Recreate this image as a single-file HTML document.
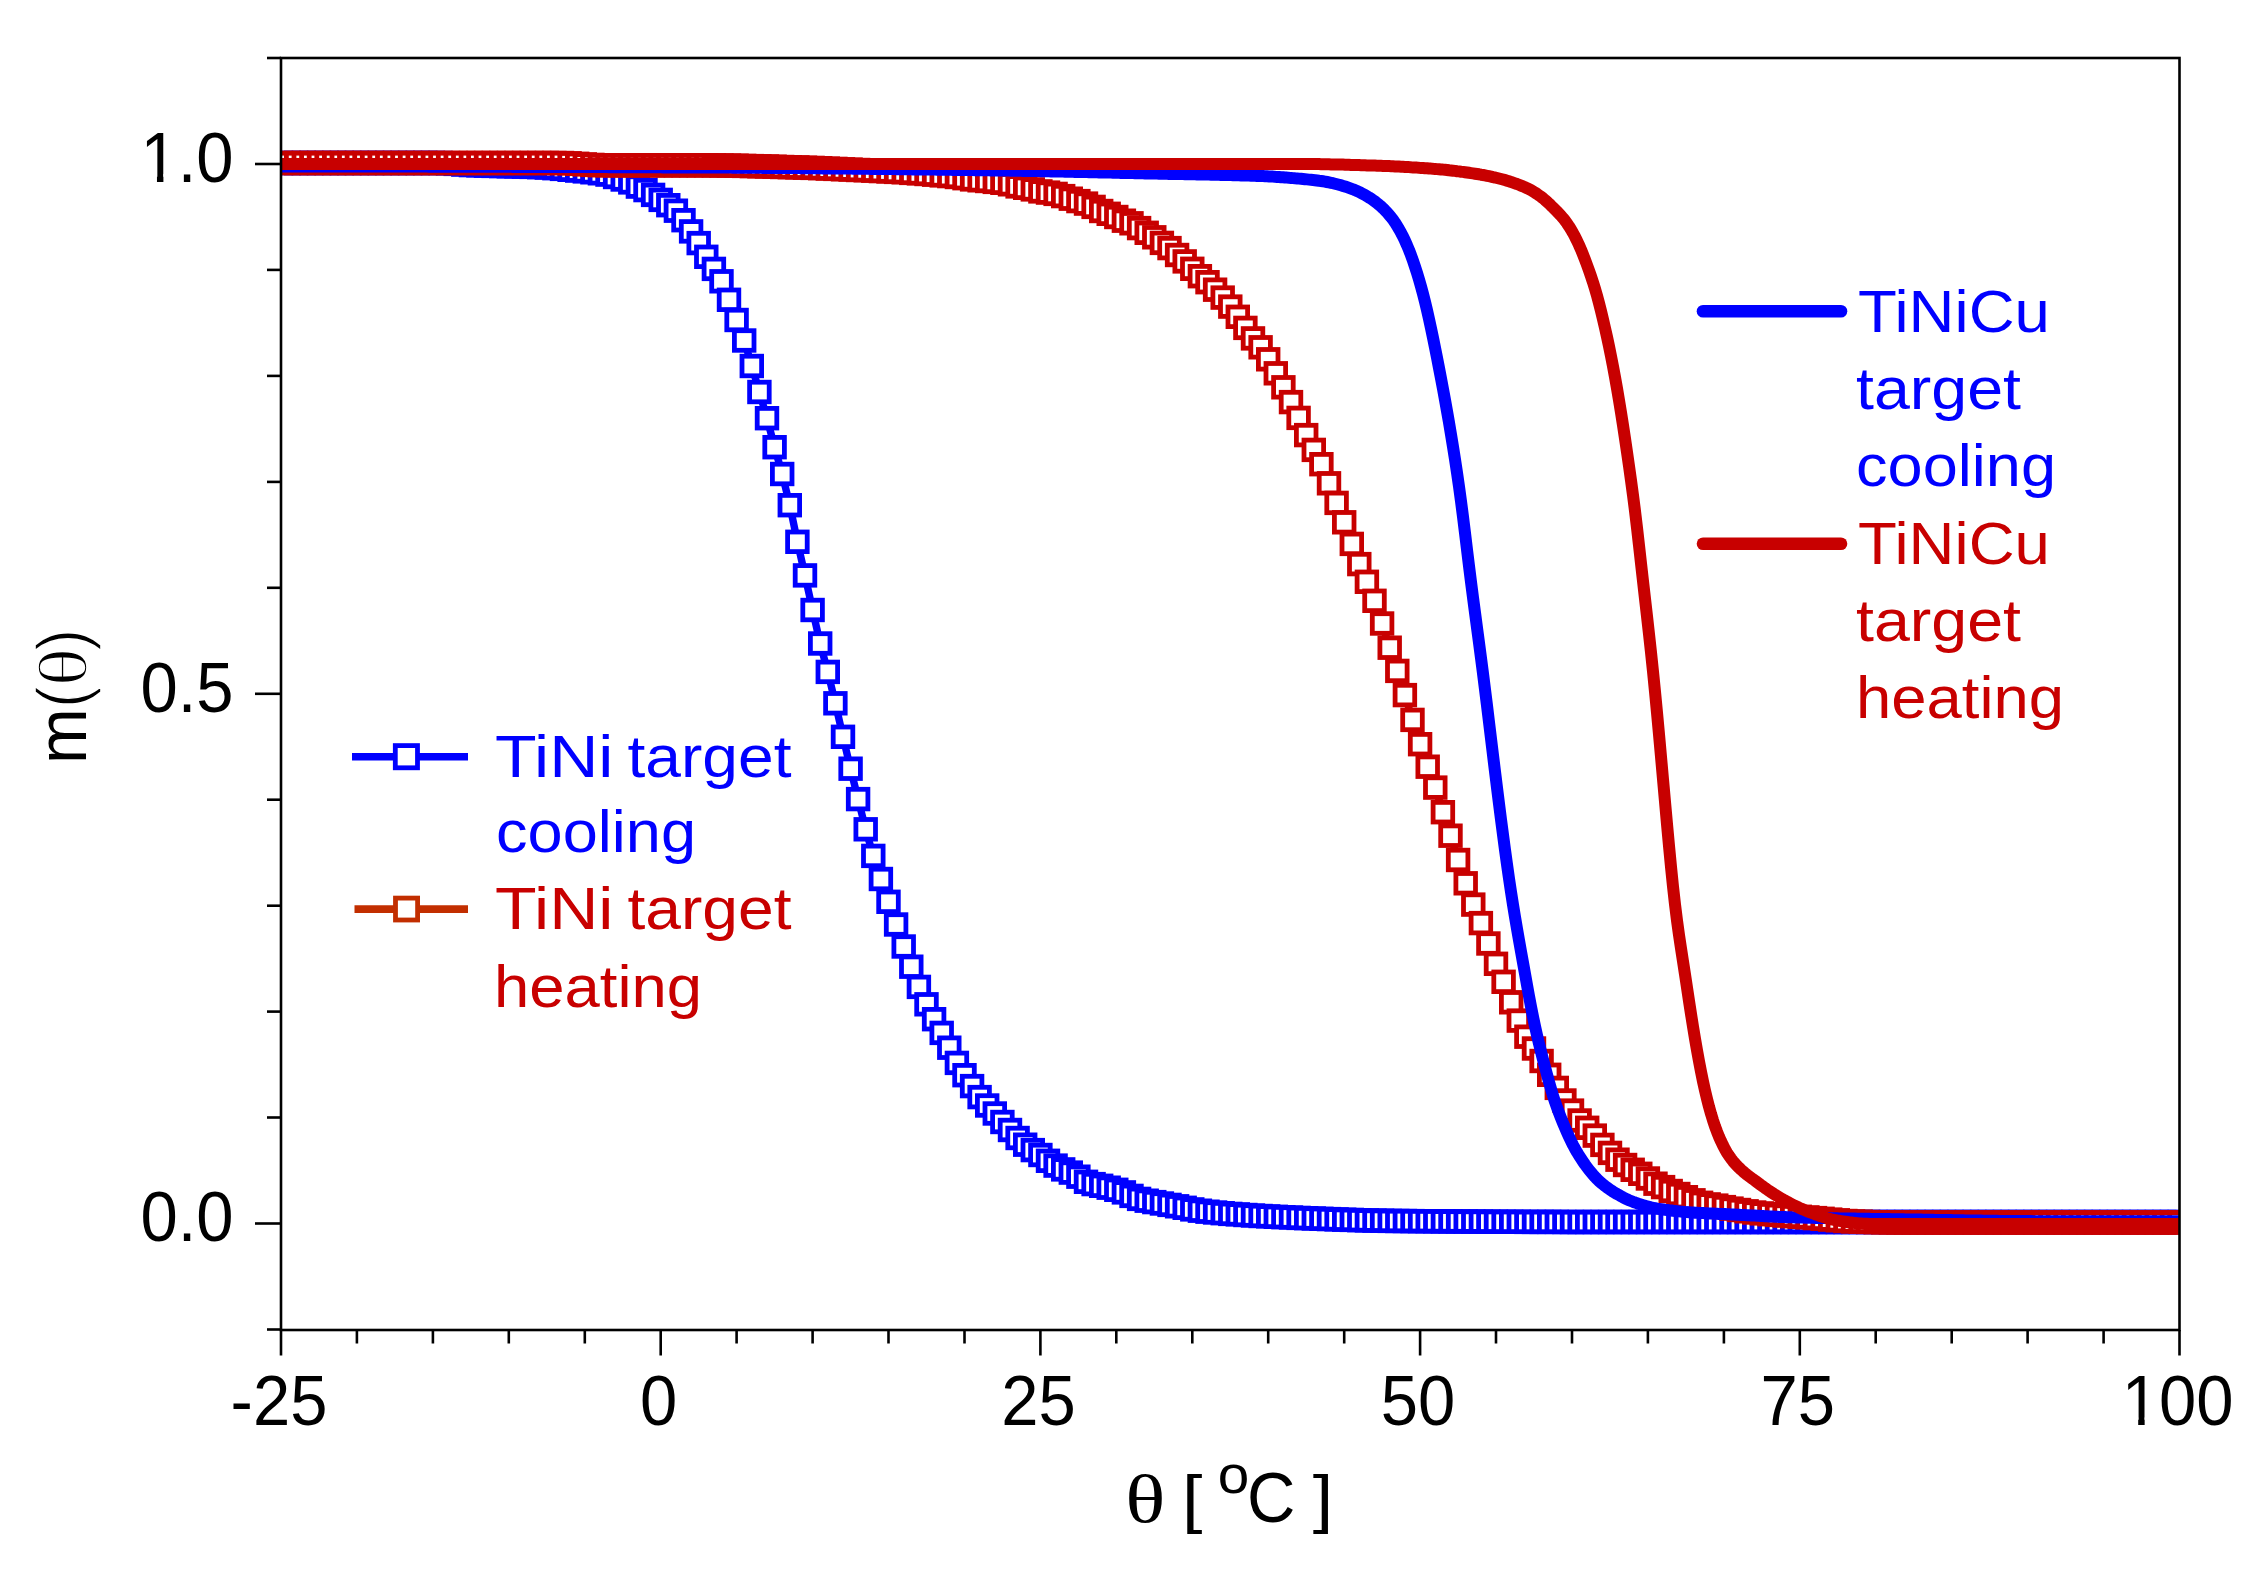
<!DOCTYPE html>
<html lang="en"><head><meta charset="utf-8"><title>m(θ) – TiNi / TiNiCu targets</title>
<style>html,body{margin:0;padding:0;background:#fff}svg{display:block}text{font-family:"Liberation Sans",sans-serif}.sym{font-family:"Liberation Serif","DejaVu Serif",serif}</style></head><body>
<svg width="2265" height="1574" viewBox="0 0 2265 1574">
<rect width="2265" height="1574" fill="#fff"/>
<clipPath id="pc"><rect x="281.0" y="58.0" width="1898.5" height="1272.0"/></clipPath>
<g clip-path="url(#pc)">
<path d="M281.0 163.0 L288.6 163.0 L296.2 163.0 L303.8 163.0 L311.4 163.0 L319.0 163.0 L326.6 163.0 L334.2 163.0 L341.8 163.0 L349.3 163.0 L356.9 163.0 L364.5 163.0 L372.1 163.0 L379.7 163.0 L387.3 163.0 L394.9 163.0 L402.5 163.0 L410.1 163.0 L417.7 163.0 L425.3 163.0 L432.9 163.0 L440.5 163.0 L448.1 163.3 L455.7 163.9 L463.3 164.6 L470.9 165.1 L478.4 165.4 L486.0 165.7 L493.6 165.9 L501.2 166.1 L508.8 166.3 L516.4 166.4 L524.0 166.7 L531.6 166.9 L539.2 167.2 L546.8 167.6 L554.4 168.2 L562.0 168.9 L569.6 169.8 L577.2 170.6 L584.8 171.4 L592.4 172.3 L599.9 173.3 L607.5 174.6 L615.1 177.0 L622.7 179.5 L630.3 182.4 L637.9 186.6 L645.5 190.1 L653.1 194.9 L660.7 199.9 L668.3 205.2 L675.9 210.7 L683.5 220.2 L691.1 231.4 L698.7 243.1 L706.3 256.8 L713.9 268.9 L721.5 281.3 L729.0 299.8 L736.6 320.0 L744.2 340.5 L751.8 366.0 L759.4 392.0 L767.0 418.2 L774.6 447.2 L782.2 474.0 L789.8 505.2 L797.4 541.8 L805.0 575.4 L812.6 610.0 L820.2 643.5 L827.8 671.9 L835.4 703.3 L843.0 736.8 L850.5 768.7 L858.1 799.1 L865.7 829.3 L873.3 855.9 L880.9 879.0 L888.5 901.8 L896.1 924.5 L903.7 946.5 L911.3 966.7 L918.9 986.9 L926.5 1004.3 L934.1 1019.2 L941.7 1032.9 L949.3 1047.7 L956.9 1062.9 L964.5 1075.2 L972.1 1086.1 L979.6 1097.1 L987.2 1105.5 L994.8 1113.5 L1002.4 1122.0 L1010.0 1130.0 L1017.6 1138.0 L1025.2 1144.7 L1032.8 1150.1 L1040.4 1155.0 L1048.0 1160.8 L1055.6 1165.6 L1063.2 1169.4 L1070.8 1172.6 L1078.4 1176.7 L1086.0 1181.8 L1093.6 1184.1 L1101.2 1185.8 L1108.7 1187.7 L1116.3 1189.8 L1123.9 1192.4 L1131.5 1195.9 L1139.1 1198.9 L1146.7 1200.7 L1154.3 1202.1 L1161.9 1203.5 L1169.5 1204.9 L1177.1 1206.3 L1184.7 1207.8 L1192.3 1209.4 L1199.9 1210.7 L1207.5 1211.7 L1215.1 1212.5 L1222.7 1213.2 L1230.2 1213.9 L1237.8 1214.4 L1245.4 1215.0 L1253.0 1215.5 L1260.6 1216.0 L1268.2 1216.4 L1275.8 1216.8 L1283.4 1217.2 L1291.0 1217.5 L1298.6 1217.9 L1306.2 1218.2 L1313.8 1218.5 L1321.4 1218.8 L1329.0 1219.1 L1336.6 1219.4 L1344.2 1219.7 L1351.8 1219.9 L1359.3 1220.2 L1366.9 1220.4 L1374.5 1220.6 L1382.1 1220.7 L1389.7 1220.9 L1397.3 1221.0 L1404.9 1221.0 L1412.5 1221.1 L1420.1 1221.2 L1427.7 1221.2 L1435.3 1221.3 L1442.9 1221.4 L1450.5 1221.4 L1458.1 1221.5 L1465.7 1221.5 L1473.3 1221.6 L1480.9 1221.6 L1488.4 1221.7 L1496.0 1221.7 L1503.6 1221.8 L1511.2 1221.8 L1518.8 1221.8 L1526.4 1221.9 L1534.0 1221.9 L1541.6 1221.9 L1549.2 1221.9 L1556.8 1221.9 L1564.4 1222.0 L1572.0 1222.0 L1579.6 1222.0 L1587.2 1222.0 L1594.8 1222.0 L1602.4 1222.0 L1610.0 1222.0 L1617.5 1222.0 L1625.1 1222.0 L1632.7 1222.0 L1640.3 1222.0 L1647.9 1222.0 L1655.5 1222.0 L1663.1 1222.0 L1670.7 1222.0 L1678.3 1222.0 L1685.9 1222.0 L1693.5 1222.0 L1701.1 1222.0 L1708.7 1222.0 L1716.3 1222.0 L1723.9 1222.0 L1731.5 1222.0 L1739.0 1222.0 L1746.6 1222.0 L1754.2 1222.0 L1761.8 1222.0 L1769.4 1222.0 L1777.0 1222.0 L1784.6 1222.0 L1792.2 1222.0 L1799.8 1222.0 L1807.4 1222.0 L1815.0 1222.0 L1822.6 1222.0 L1830.2 1222.0 L1837.8 1222.0 L1845.4 1222.0 L1853.0 1222.0 L1860.6 1222.0 L1868.1 1222.0 L1875.7 1222.0 L1883.3 1222.0 L1890.9 1222.0 L1898.5 1222.0 L1906.1 1222.0 L1913.7 1222.0 L1921.3 1222.0 L1928.9 1222.0 L1936.5 1222.0 L1944.1 1222.0 L1951.7 1222.0 L1959.3 1222.0 L1966.9 1222.0 L1974.5 1222.0 L1982.1 1222.0 L1989.7 1222.0 L1997.2 1222.0 L2004.8 1222.0 L2012.4 1222.0 L2020.0 1222.0 L2027.6 1222.0 L2035.2 1222.0 L2042.8 1222.0 L2050.4 1222.0 L2058.0 1222.0 L2065.6 1222.0 L2073.2 1222.0 L2080.8 1222.0 L2088.4 1222.0 L2096.0 1222.0 L2103.6 1222.0 L2111.2 1222.0 L2118.7 1222.0 L2126.3 1222.0 L2133.9 1222.0 L2141.5 1222.0 L2149.1 1222.0 L2156.7 1222.0 L2164.3 1222.0 L2171.9 1222.0 L2179.5 1222.0" fill="none" stroke="#0000ff" stroke-width="7.4"/>
<g fill="#fff" stroke="#0000ff" stroke-width="4.8">
<rect x="271.2" y="153.2" width="19.6" height="19.6"/>
<rect x="278.8" y="153.2" width="19.6" height="19.6"/>
<rect x="286.4" y="153.2" width="19.6" height="19.6"/>
<rect x="294.0" y="153.2" width="19.6" height="19.6"/>
<rect x="301.6" y="153.2" width="19.6" height="19.6"/>
<rect x="309.2" y="153.2" width="19.6" height="19.6"/>
<rect x="316.8" y="153.2" width="19.6" height="19.6"/>
<rect x="324.4" y="153.2" width="19.6" height="19.6"/>
<rect x="332.0" y="153.2" width="19.6" height="19.6"/>
<rect x="339.5" y="153.2" width="19.6" height="19.6"/>
<rect x="347.1" y="153.2" width="19.6" height="19.6"/>
<rect x="354.7" y="153.2" width="19.6" height="19.6"/>
<rect x="362.3" y="153.2" width="19.6" height="19.6"/>
<rect x="369.9" y="153.2" width="19.6" height="19.6"/>
<rect x="377.5" y="153.2" width="19.6" height="19.6"/>
<rect x="385.1" y="153.2" width="19.6" height="19.6"/>
<rect x="392.7" y="153.2" width="19.6" height="19.6"/>
<rect x="400.3" y="153.2" width="19.6" height="19.6"/>
<rect x="407.9" y="153.2" width="19.6" height="19.6"/>
<rect x="415.5" y="153.2" width="19.6" height="19.6"/>
<rect x="423.1" y="153.2" width="19.6" height="19.6"/>
<rect x="430.7" y="153.2" width="19.6" height="19.6"/>
<rect x="438.3" y="153.5" width="19.6" height="19.6"/>
<rect x="445.9" y="154.1" width="19.6" height="19.6"/>
<rect x="453.5" y="154.8" width="19.6" height="19.6"/>
<rect x="461.1" y="155.3" width="19.6" height="19.6"/>
<rect x="468.6" y="155.6" width="19.6" height="19.6"/>
<rect x="476.2" y="155.9" width="19.6" height="19.6"/>
<rect x="483.8" y="156.1" width="19.6" height="19.6"/>
<rect x="491.4" y="156.3" width="19.6" height="19.6"/>
<rect x="499.0" y="156.5" width="19.6" height="19.6"/>
<rect x="506.6" y="156.6" width="19.6" height="19.6"/>
<rect x="514.2" y="156.9" width="19.6" height="19.6"/>
<rect x="521.8" y="157.1" width="19.6" height="19.6"/>
<rect x="529.4" y="157.4" width="19.6" height="19.6"/>
<rect x="537.0" y="157.8" width="19.6" height="19.6"/>
<rect x="544.6" y="158.4" width="19.6" height="19.6"/>
<rect x="552.2" y="159.1" width="19.6" height="19.6"/>
<rect x="559.8" y="160.0" width="19.6" height="19.6"/>
<rect x="567.4" y="160.8" width="19.6" height="19.6"/>
<rect x="575.0" y="161.6" width="19.6" height="19.6"/>
<rect x="582.6" y="162.5" width="19.6" height="19.6"/>
<rect x="590.1" y="163.5" width="19.6" height="19.6"/>
<rect x="597.7" y="164.8" width="19.6" height="19.6"/>
<rect x="605.3" y="167.2" width="19.6" height="19.6"/>
<rect x="612.9" y="169.7" width="19.6" height="19.6"/>
<rect x="620.5" y="172.6" width="19.6" height="19.6"/>
<rect x="628.1" y="176.8" width="19.6" height="19.6"/>
<rect x="635.7" y="180.3" width="19.6" height="19.6"/>
<rect x="643.3" y="185.1" width="19.6" height="19.6"/>
<rect x="650.9" y="190.1" width="19.6" height="19.6"/>
<rect x="658.5" y="195.4" width="19.6" height="19.6"/>
<rect x="666.1" y="200.9" width="19.6" height="19.6"/>
<rect x="673.7" y="210.4" width="19.6" height="19.6"/>
<rect x="681.3" y="221.6" width="19.6" height="19.6"/>
<rect x="688.9" y="233.3" width="19.6" height="19.6"/>
<rect x="696.5" y="247.0" width="19.6" height="19.6"/>
<rect x="704.1" y="259.1" width="19.6" height="19.6"/>
<rect x="711.7" y="271.5" width="19.6" height="19.6"/>
<rect x="719.2" y="290.0" width="19.6" height="19.6"/>
<rect x="726.8" y="310.2" width="19.6" height="19.6"/>
<rect x="734.4" y="330.7" width="19.6" height="19.6"/>
<rect x="742.0" y="356.2" width="19.6" height="19.6"/>
<rect x="749.6" y="382.2" width="19.6" height="19.6"/>
<rect x="757.2" y="408.4" width="19.6" height="19.6"/>
<rect x="764.8" y="437.4" width="19.6" height="19.6"/>
<rect x="772.4" y="464.2" width="19.6" height="19.6"/>
<rect x="780.0" y="495.4" width="19.6" height="19.6"/>
<rect x="787.6" y="532.0" width="19.6" height="19.6"/>
<rect x="795.2" y="565.6" width="19.6" height="19.6"/>
<rect x="802.8" y="600.2" width="19.6" height="19.6"/>
<rect x="810.4" y="633.7" width="19.6" height="19.6"/>
<rect x="818.0" y="662.1" width="19.6" height="19.6"/>
<rect x="825.6" y="693.5" width="19.6" height="19.6"/>
<rect x="833.2" y="727.0" width="19.6" height="19.6"/>
<rect x="840.8" y="758.9" width="19.6" height="19.6"/>
<rect x="848.3" y="789.3" width="19.6" height="19.6"/>
<rect x="855.9" y="819.5" width="19.6" height="19.6"/>
<rect x="863.5" y="846.1" width="19.6" height="19.6"/>
<rect x="871.1" y="869.2" width="19.6" height="19.6"/>
<rect x="878.7" y="892.0" width="19.6" height="19.6"/>
<rect x="886.3" y="914.7" width="19.6" height="19.6"/>
<rect x="893.9" y="936.7" width="19.6" height="19.6"/>
<rect x="901.5" y="956.9" width="19.6" height="19.6"/>
<rect x="909.1" y="977.1" width="19.6" height="19.6"/>
<rect x="916.7" y="994.5" width="19.6" height="19.6"/>
<rect x="924.3" y="1009.4" width="19.6" height="19.6"/>
<rect x="931.9" y="1023.1" width="19.6" height="19.6"/>
<rect x="939.5" y="1037.9" width="19.6" height="19.6"/>
<rect x="947.1" y="1053.1" width="19.6" height="19.6"/>
<rect x="954.7" y="1065.4" width="19.6" height="19.6"/>
<rect x="962.3" y="1076.3" width="19.6" height="19.6"/>
<rect x="969.8" y="1087.3" width="19.6" height="19.6"/>
<rect x="977.4" y="1095.7" width="19.6" height="19.6"/>
<rect x="985.0" y="1103.7" width="19.6" height="19.6"/>
<rect x="992.6" y="1112.2" width="19.6" height="19.6"/>
<rect x="1000.2" y="1120.2" width="19.6" height="19.6"/>
<rect x="1007.8" y="1128.2" width="19.6" height="19.6"/>
<rect x="1015.4" y="1134.9" width="19.6" height="19.6"/>
<rect x="1023.0" y="1140.3" width="19.6" height="19.6"/>
<rect x="1030.6" y="1145.2" width="19.6" height="19.6"/>
<rect x="1038.2" y="1151.0" width="19.6" height="19.6"/>
<rect x="1045.8" y="1155.8" width="19.6" height="19.6"/>
<rect x="1053.4" y="1159.6" width="19.6" height="19.6"/>
<rect x="1061.0" y="1162.8" width="19.6" height="19.6"/>
<rect x="1068.6" y="1166.9" width="19.6" height="19.6"/>
<rect x="1076.2" y="1172.0" width="19.6" height="19.6"/>
<rect x="1083.8" y="1174.3" width="19.6" height="19.6"/>
<rect x="1091.4" y="1176.0" width="19.6" height="19.6"/>
<rect x="1098.9" y="1177.9" width="19.6" height="19.6"/>
<rect x="1106.5" y="1180.0" width="19.6" height="19.6"/>
<rect x="1114.1" y="1182.6" width="19.6" height="19.6"/>
<rect x="1121.7" y="1186.1" width="19.6" height="19.6"/>
<rect x="1129.3" y="1189.1" width="19.6" height="19.6"/>
<rect x="1136.9" y="1190.9" width="19.6" height="19.6"/>
<rect x="1144.5" y="1192.3" width="19.6" height="19.6"/>
<rect x="1152.1" y="1193.7" width="19.6" height="19.6"/>
<rect x="1159.7" y="1195.1" width="19.6" height="19.6"/>
<rect x="1167.3" y="1196.5" width="19.6" height="19.6"/>
<rect x="1174.9" y="1198.0" width="19.6" height="19.6"/>
<rect x="1182.5" y="1199.6" width="19.6" height="19.6"/>
<rect x="1190.1" y="1200.9" width="19.6" height="19.6"/>
<rect x="1197.7" y="1201.9" width="19.6" height="19.6"/>
<rect x="1205.3" y="1202.7" width="19.6" height="19.6"/>
<rect x="1212.9" y="1203.4" width="19.6" height="19.6"/>
<rect x="1220.5" y="1204.1" width="19.6" height="19.6"/>
<rect x="1228.0" y="1204.6" width="19.6" height="19.6"/>
<rect x="1235.6" y="1205.2" width="19.6" height="19.6"/>
<rect x="1243.2" y="1205.7" width="19.6" height="19.6"/>
<rect x="1250.8" y="1206.2" width="19.6" height="19.6"/>
<rect x="1258.4" y="1206.6" width="19.6" height="19.6"/>
<rect x="1266.0" y="1207.0" width="19.6" height="19.6"/>
<rect x="1273.6" y="1207.4" width="19.6" height="19.6"/>
<rect x="1281.2" y="1207.7" width="19.6" height="19.6"/>
<rect x="1288.8" y="1208.1" width="19.6" height="19.6"/>
<rect x="1296.4" y="1208.4" width="19.6" height="19.6"/>
<rect x="1304.0" y="1208.7" width="19.6" height="19.6"/>
<rect x="1311.6" y="1209.0" width="19.6" height="19.6"/>
<rect x="1319.2" y="1209.3" width="19.6" height="19.6"/>
<rect x="1326.8" y="1209.6" width="19.6" height="19.6"/>
<rect x="1334.4" y="1209.9" width="19.6" height="19.6"/>
<rect x="1342.0" y="1210.1" width="19.6" height="19.6"/>
<rect x="1349.5" y="1210.4" width="19.6" height="19.6"/>
<rect x="1357.1" y="1210.6" width="19.6" height="19.6"/>
<rect x="1364.7" y="1210.8" width="19.6" height="19.6"/>
<rect x="1372.3" y="1210.9" width="19.6" height="19.6"/>
<rect x="1379.9" y="1211.1" width="19.6" height="19.6"/>
<rect x="1387.5" y="1211.2" width="19.6" height="19.6"/>
<rect x="1395.1" y="1211.2" width="19.6" height="19.6"/>
<rect x="1402.7" y="1211.3" width="19.6" height="19.6"/>
<rect x="1410.3" y="1211.4" width="19.6" height="19.6"/>
<rect x="1417.9" y="1211.4" width="19.6" height="19.6"/>
<rect x="1425.5" y="1211.5" width="19.6" height="19.6"/>
<rect x="1433.1" y="1211.6" width="19.6" height="19.6"/>
<rect x="1440.7" y="1211.6" width="19.6" height="19.6"/>
<rect x="1448.3" y="1211.7" width="19.6" height="19.6"/>
<rect x="1455.9" y="1211.7" width="19.6" height="19.6"/>
<rect x="1463.5" y="1211.8" width="19.6" height="19.6"/>
<rect x="1471.1" y="1211.8" width="19.6" height="19.6"/>
<rect x="1478.6" y="1211.9" width="19.6" height="19.6"/>
<rect x="1486.2" y="1211.9" width="19.6" height="19.6"/>
<rect x="1493.8" y="1212.0" width="19.6" height="19.6"/>
<rect x="1501.4" y="1212.0" width="19.6" height="19.6"/>
<rect x="1509.0" y="1212.0" width="19.6" height="19.6"/>
<rect x="1516.6" y="1212.1" width="19.6" height="19.6"/>
<rect x="1524.2" y="1212.1" width="19.6" height="19.6"/>
<rect x="1531.8" y="1212.1" width="19.6" height="19.6"/>
<rect x="1539.4" y="1212.1" width="19.6" height="19.6"/>
<rect x="1547.0" y="1212.1" width="19.6" height="19.6"/>
<rect x="1554.6" y="1212.2" width="19.6" height="19.6"/>
<rect x="1562.2" y="1212.2" width="19.6" height="19.6"/>
<rect x="1569.8" y="1212.2" width="19.6" height="19.6"/>
<rect x="1577.4" y="1212.2" width="19.6" height="19.6"/>
<rect x="1585.0" y="1212.2" width="19.6" height="19.6"/>
<rect x="1592.6" y="1212.2" width="19.6" height="19.6"/>
<rect x="1600.2" y="1212.2" width="19.6" height="19.6"/>
<rect x="1607.7" y="1212.2" width="19.6" height="19.6"/>
<rect x="1615.3" y="1212.2" width="19.6" height="19.6"/>
<rect x="1622.9" y="1212.2" width="19.6" height="19.6"/>
<rect x="1630.5" y="1212.2" width="19.6" height="19.6"/>
<rect x="1638.1" y="1212.2" width="19.6" height="19.6"/>
<rect x="1645.7" y="1212.2" width="19.6" height="19.6"/>
<rect x="1653.3" y="1212.2" width="19.6" height="19.6"/>
<rect x="1660.9" y="1212.2" width="19.6" height="19.6"/>
<rect x="1668.5" y="1212.2" width="19.6" height="19.6"/>
<rect x="1676.1" y="1212.2" width="19.6" height="19.6"/>
<rect x="1683.7" y="1212.2" width="19.6" height="19.6"/>
<rect x="1691.3" y="1212.2" width="19.6" height="19.6"/>
<rect x="1698.9" y="1212.2" width="19.6" height="19.6"/>
<rect x="1706.5" y="1212.2" width="19.6" height="19.6"/>
<rect x="1714.1" y="1212.2" width="19.6" height="19.6"/>
<rect x="1721.7" y="1212.2" width="19.6" height="19.6"/>
<rect x="1729.2" y="1212.2" width="19.6" height="19.6"/>
<rect x="1736.8" y="1212.2" width="19.6" height="19.6"/>
<rect x="1744.4" y="1212.2" width="19.6" height="19.6"/>
<rect x="1752.0" y="1212.2" width="19.6" height="19.6"/>
<rect x="1759.6" y="1212.2" width="19.6" height="19.6"/>
<rect x="1767.2" y="1212.2" width="19.6" height="19.6"/>
<rect x="1774.8" y="1212.2" width="19.6" height="19.6"/>
<rect x="1782.4" y="1212.2" width="19.6" height="19.6"/>
<rect x="1790.0" y="1212.2" width="19.6" height="19.6"/>
<rect x="1797.6" y="1212.2" width="19.6" height="19.6"/>
<rect x="1805.2" y="1212.2" width="19.6" height="19.6"/>
<rect x="1812.8" y="1212.2" width="19.6" height="19.6"/>
<rect x="1820.4" y="1212.2" width="19.6" height="19.6"/>
<rect x="1828.0" y="1212.2" width="19.6" height="19.6"/>
<rect x="1835.6" y="1212.2" width="19.6" height="19.6"/>
<rect x="1843.2" y="1212.2" width="19.6" height="19.6"/>
<rect x="1850.8" y="1212.2" width="19.6" height="19.6"/>
<rect x="1858.3" y="1212.2" width="19.6" height="19.6"/>
<rect x="1865.9" y="1212.2" width="19.6" height="19.6"/>
<rect x="1873.5" y="1212.2" width="19.6" height="19.6"/>
<rect x="1881.1" y="1212.2" width="19.6" height="19.6"/>
<rect x="1888.7" y="1212.2" width="19.6" height="19.6"/>
<rect x="1896.3" y="1212.2" width="19.6" height="19.6"/>
<rect x="1903.9" y="1212.2" width="19.6" height="19.6"/>
<rect x="1911.5" y="1212.2" width="19.6" height="19.6"/>
<rect x="1919.1" y="1212.2" width="19.6" height="19.6"/>
<rect x="1926.7" y="1212.2" width="19.6" height="19.6"/>
<rect x="1934.3" y="1212.2" width="19.6" height="19.6"/>
<rect x="1941.9" y="1212.2" width="19.6" height="19.6"/>
<rect x="1949.5" y="1212.2" width="19.6" height="19.6"/>
<rect x="1957.1" y="1212.2" width="19.6" height="19.6"/>
<rect x="1964.7" y="1212.2" width="19.6" height="19.6"/>
<rect x="1972.3" y="1212.2" width="19.6" height="19.6"/>
<rect x="1979.9" y="1212.2" width="19.6" height="19.6"/>
<rect x="1987.4" y="1212.2" width="19.6" height="19.6"/>
<rect x="1995.0" y="1212.2" width="19.6" height="19.6"/>
<rect x="2002.6" y="1212.2" width="19.6" height="19.6"/>
<rect x="2010.2" y="1212.2" width="19.6" height="19.6"/>
<rect x="2017.8" y="1212.2" width="19.6" height="19.6"/>
<rect x="2025.4" y="1212.2" width="19.6" height="19.6"/>
<rect x="2033.0" y="1212.2" width="19.6" height="19.6"/>
<rect x="2040.6" y="1212.2" width="19.6" height="19.6"/>
<rect x="2048.2" y="1212.2" width="19.6" height="19.6"/>
<rect x="2055.8" y="1212.2" width="19.6" height="19.6"/>
<rect x="2063.4" y="1212.2" width="19.6" height="19.6"/>
<rect x="2071.0" y="1212.2" width="19.6" height="19.6"/>
<rect x="2078.6" y="1212.2" width="19.6" height="19.6"/>
<rect x="2086.2" y="1212.2" width="19.6" height="19.6"/>
<rect x="2093.8" y="1212.2" width="19.6" height="19.6"/>
<rect x="2101.4" y="1212.2" width="19.6" height="19.6"/>
<rect x="2108.9" y="1212.2" width="19.6" height="19.6"/>
<rect x="2116.5" y="1212.2" width="19.6" height="19.6"/>
<rect x="2124.1" y="1212.2" width="19.6" height="19.6"/>
<rect x="2131.7" y="1212.2" width="19.6" height="19.6"/>
<rect x="2139.3" y="1212.2" width="19.6" height="19.6"/>
<rect x="2146.9" y="1212.2" width="19.6" height="19.6"/>
<rect x="2154.5" y="1212.2" width="19.6" height="19.6"/>
<rect x="2162.1" y="1212.2" width="19.6" height="19.6"/>
<rect x="2169.7" y="1212.2" width="19.6" height="19.6"/>
</g>
<path d="M281.0 163.0 L288.6 163.0 L296.2 163.0 L303.8 163.0 L311.4 163.0 L319.0 163.0 L326.6 163.0 L334.2 163.0 L341.8 163.0 L349.3 163.0 L356.9 163.0 L364.5 163.0 L372.1 163.0 L379.7 163.0 L387.3 163.0 L394.9 163.0 L402.5 163.0 L410.1 163.0 L417.7 163.0 L425.3 163.0 L432.9 163.0 L440.5 163.0 L448.1 163.0 L455.7 163.0 L463.3 163.0 L470.9 163.0 L478.4 163.0 L486.0 163.0 L493.6 163.0 L501.2 163.0 L508.8 163.0 L516.4 163.0 L524.0 163.0 L531.6 163.0 L539.2 163.0 L546.8 163.0 L554.4 163.0 L562.0 163.0 L569.6 163.3 L577.2 163.8 L584.8 164.4 L592.4 164.9 L599.9 165.2 L607.5 165.3 L615.1 165.3 L622.7 165.3 L630.3 165.3 L637.9 165.3 L645.5 165.3 L653.1 165.3 L660.7 165.3 L668.3 165.3 L675.9 165.3 L683.5 165.3 L691.1 165.3 L698.7 165.3 L706.3 165.3 L713.9 165.4 L721.5 165.5 L729.0 165.6 L736.6 165.7 L744.2 165.9 L751.8 166.1 L759.4 166.3 L767.0 166.5 L774.6 166.7 L782.2 167.0 L789.8 167.2 L797.4 167.4 L805.0 167.7 L812.6 167.9 L820.2 168.2 L827.8 168.6 L835.4 168.9 L843.0 169.3 L850.5 169.6 L858.1 170.0 L865.7 170.3 L873.3 170.7 L880.9 171.1 L888.5 171.5 L896.1 171.9 L903.7 172.3 L911.3 172.9 L918.9 173.4 L926.5 174.0 L934.1 174.7 L941.7 175.4 L949.3 176.1 L956.9 177.0 L964.5 178.2 L972.1 179.4 L979.6 180.3 L987.2 181.0 L994.8 181.9 L1002.4 182.8 L1010.0 184.3 L1017.6 186.4 L1025.2 187.8 L1032.8 189.4 L1040.4 191.4 L1048.0 192.6 L1055.6 193.9 L1063.2 196.1 L1070.8 198.7 L1078.4 201.1 L1086.0 203.6 L1093.6 206.9 L1101.2 211.0 L1108.7 213.8 L1116.3 217.0 L1123.9 220.7 L1131.5 223.3 L1139.1 228.1 L1146.7 232.8 L1154.3 237.3 L1161.9 242.9 L1169.5 248.1 L1177.1 255.0 L1184.7 261.4 L1192.3 268.8 L1199.9 276.2 L1207.5 282.2 L1215.1 289.7 L1222.7 297.6 L1230.2 306.6 L1237.8 316.8 L1245.4 327.9 L1253.0 338.4 L1260.6 347.3 L1268.2 359.3 L1275.8 373.3 L1283.4 387.3 L1291.0 402.1 L1298.6 417.9 L1306.2 435.1 L1313.8 449.9 L1321.4 464.2 L1329.0 483.3 L1336.6 502.9 L1344.2 522.3 L1351.8 543.9 L1359.3 564.1 L1366.9 581.8 L1374.5 600.8 L1382.1 623.5 L1389.7 647.7 L1397.3 670.9 L1404.9 695.1 L1412.5 719.9 L1420.1 744.2 L1427.7 766.7 L1435.3 787.6 L1442.9 812.2 L1450.5 835.7 L1458.1 860.0 L1465.7 883.3 L1473.3 904.6 L1480.9 923.1 L1488.4 943.5 L1496.0 963.8 L1503.6 981.8 L1511.2 1002.3 L1518.8 1020.6 L1526.4 1036.7 L1534.0 1048.5 L1541.6 1061.0 L1549.2 1074.8 L1556.8 1087.9 L1564.4 1100.5 L1572.0 1110.6 L1579.6 1120.5 L1587.2 1127.8 L1594.8 1135.6 L1602.4 1144.9 L1610.0 1152.9 L1617.5 1159.7 L1625.1 1165.0 L1632.7 1169.8 L1640.3 1173.8 L1647.9 1178.5 L1655.5 1183.7 L1663.1 1187.1 L1670.7 1191.0 L1678.3 1194.0 L1685.9 1197.2 L1693.5 1200.3 L1701.1 1202.8 L1708.7 1204.4 L1716.3 1205.6 L1723.9 1207.1 L1731.5 1208.6 L1739.0 1210.0 L1746.6 1211.3 L1754.2 1212.5 L1761.8 1213.4 L1769.4 1214.2 L1777.0 1214.9 L1784.6 1215.6 L1792.2 1216.2 L1799.8 1216.8 L1807.4 1217.4 L1815.0 1218.1 L1822.6 1218.8 L1830.2 1219.6 L1837.8 1220.3 L1845.4 1221.0 L1853.0 1221.5 L1860.6 1221.7 L1868.1 1222.0 L1875.7 1222.2 L1883.3 1222.3 L1890.9 1222.4 L1898.5 1222.5 L1906.1 1222.5 L1913.7 1222.5 L1921.3 1222.5 L1928.9 1222.5 L1936.5 1222.5 L1944.1 1222.5 L1951.7 1222.5 L1959.3 1222.5 L1966.9 1222.5 L1974.5 1222.5 L1982.1 1222.5 L1989.7 1222.5 L1997.2 1222.5 L2004.8 1222.5 L2012.4 1222.5 L2020.0 1222.5 L2027.6 1222.5 L2035.2 1222.5 L2042.8 1222.5 L2050.4 1222.5 L2058.0 1222.5 L2065.6 1222.5 L2073.2 1222.5 L2080.8 1222.5 L2088.4 1222.5 L2096.0 1222.5 L2103.6 1222.5 L2111.2 1222.5 L2118.7 1222.5 L2126.3 1222.5 L2133.9 1222.5 L2141.5 1222.5 L2149.1 1222.5 L2156.7 1222.5 L2164.3 1222.5 L2171.9 1222.5 L2179.5 1222.5" fill="none" stroke="#c80000" stroke-width="7.4"/>
<g fill="#fff" stroke="#c80000" stroke-width="4.8">
<rect x="271.2" y="153.2" width="19.6" height="19.6"/>
<rect x="278.8" y="153.2" width="19.6" height="19.6"/>
<rect x="286.4" y="153.2" width="19.6" height="19.6"/>
<rect x="294.0" y="153.2" width="19.6" height="19.6"/>
<rect x="301.6" y="153.2" width="19.6" height="19.6"/>
<rect x="309.2" y="153.2" width="19.6" height="19.6"/>
<rect x="316.8" y="153.2" width="19.6" height="19.6"/>
<rect x="324.4" y="153.2" width="19.6" height="19.6"/>
<rect x="332.0" y="153.2" width="19.6" height="19.6"/>
<rect x="339.5" y="153.2" width="19.6" height="19.6"/>
<rect x="347.1" y="153.2" width="19.6" height="19.6"/>
<rect x="354.7" y="153.2" width="19.6" height="19.6"/>
<rect x="362.3" y="153.2" width="19.6" height="19.6"/>
<rect x="369.9" y="153.2" width="19.6" height="19.6"/>
<rect x="377.5" y="153.2" width="19.6" height="19.6"/>
<rect x="385.1" y="153.2" width="19.6" height="19.6"/>
<rect x="392.7" y="153.2" width="19.6" height="19.6"/>
<rect x="400.3" y="153.2" width="19.6" height="19.6"/>
<rect x="407.9" y="153.2" width="19.6" height="19.6"/>
<rect x="415.5" y="153.2" width="19.6" height="19.6"/>
<rect x="423.1" y="153.2" width="19.6" height="19.6"/>
<rect x="430.7" y="153.2" width="19.6" height="19.6"/>
<rect x="438.3" y="153.2" width="19.6" height="19.6"/>
<rect x="445.9" y="153.2" width="19.6" height="19.6"/>
<rect x="453.5" y="153.2" width="19.6" height="19.6"/>
<rect x="461.1" y="153.2" width="19.6" height="19.6"/>
<rect x="468.6" y="153.2" width="19.6" height="19.6"/>
<rect x="476.2" y="153.2" width="19.6" height="19.6"/>
<rect x="483.8" y="153.2" width="19.6" height="19.6"/>
<rect x="491.4" y="153.2" width="19.6" height="19.6"/>
<rect x="499.0" y="153.2" width="19.6" height="19.6"/>
<rect x="506.6" y="153.2" width="19.6" height="19.6"/>
<rect x="514.2" y="153.2" width="19.6" height="19.6"/>
<rect x="521.8" y="153.2" width="19.6" height="19.6"/>
<rect x="529.4" y="153.2" width="19.6" height="19.6"/>
<rect x="537.0" y="153.2" width="19.6" height="19.6"/>
<rect x="544.6" y="153.2" width="19.6" height="19.6"/>
<rect x="552.2" y="153.2" width="19.6" height="19.6"/>
<rect x="559.8" y="153.5" width="19.6" height="19.6"/>
<rect x="567.4" y="154.0" width="19.6" height="19.6"/>
<rect x="575.0" y="154.6" width="19.6" height="19.6"/>
<rect x="582.6" y="155.1" width="19.6" height="19.6"/>
<rect x="590.1" y="155.4" width="19.6" height="19.6"/>
<rect x="597.7" y="155.5" width="19.6" height="19.6"/>
<rect x="605.3" y="155.5" width="19.6" height="19.6"/>
<rect x="612.9" y="155.5" width="19.6" height="19.6"/>
<rect x="620.5" y="155.5" width="19.6" height="19.6"/>
<rect x="628.1" y="155.5" width="19.6" height="19.6"/>
<rect x="635.7" y="155.5" width="19.6" height="19.6"/>
<rect x="643.3" y="155.5" width="19.6" height="19.6"/>
<rect x="650.9" y="155.5" width="19.6" height="19.6"/>
<rect x="658.5" y="155.5" width="19.6" height="19.6"/>
<rect x="666.1" y="155.5" width="19.6" height="19.6"/>
<rect x="673.7" y="155.5" width="19.6" height="19.6"/>
<rect x="681.3" y="155.5" width="19.6" height="19.6"/>
<rect x="688.9" y="155.5" width="19.6" height="19.6"/>
<rect x="696.5" y="155.5" width="19.6" height="19.6"/>
<rect x="704.1" y="155.6" width="19.6" height="19.6"/>
<rect x="711.7" y="155.7" width="19.6" height="19.6"/>
<rect x="719.2" y="155.8" width="19.6" height="19.6"/>
<rect x="726.8" y="155.9" width="19.6" height="19.6"/>
<rect x="734.4" y="156.1" width="19.6" height="19.6"/>
<rect x="742.0" y="156.3" width="19.6" height="19.6"/>
<rect x="749.6" y="156.5" width="19.6" height="19.6"/>
<rect x="757.2" y="156.7" width="19.6" height="19.6"/>
<rect x="764.8" y="156.9" width="19.6" height="19.6"/>
<rect x="772.4" y="157.2" width="19.6" height="19.6"/>
<rect x="780.0" y="157.4" width="19.6" height="19.6"/>
<rect x="787.6" y="157.6" width="19.6" height="19.6"/>
<rect x="795.2" y="157.9" width="19.6" height="19.6"/>
<rect x="802.8" y="158.1" width="19.6" height="19.6"/>
<rect x="810.4" y="158.4" width="19.6" height="19.6"/>
<rect x="818.0" y="158.8" width="19.6" height="19.6"/>
<rect x="825.6" y="159.1" width="19.6" height="19.6"/>
<rect x="833.2" y="159.5" width="19.6" height="19.6"/>
<rect x="840.8" y="159.8" width="19.6" height="19.6"/>
<rect x="848.3" y="160.2" width="19.6" height="19.6"/>
<rect x="855.9" y="160.5" width="19.6" height="19.6"/>
<rect x="863.5" y="160.9" width="19.6" height="19.6"/>
<rect x="871.1" y="161.3" width="19.6" height="19.6"/>
<rect x="878.7" y="161.7" width="19.6" height="19.6"/>
<rect x="886.3" y="162.1" width="19.6" height="19.6"/>
<rect x="893.9" y="162.5" width="19.6" height="19.6"/>
<rect x="901.5" y="163.1" width="19.6" height="19.6"/>
<rect x="909.1" y="163.6" width="19.6" height="19.6"/>
<rect x="916.7" y="164.2" width="19.6" height="19.6"/>
<rect x="924.3" y="164.9" width="19.6" height="19.6"/>
<rect x="931.9" y="165.6" width="19.6" height="19.6"/>
<rect x="939.5" y="166.3" width="19.6" height="19.6"/>
<rect x="947.1" y="167.2" width="19.6" height="19.6"/>
<rect x="954.7" y="168.4" width="19.6" height="19.6"/>
<rect x="962.3" y="169.6" width="19.6" height="19.6"/>
<rect x="969.8" y="170.5" width="19.6" height="19.6"/>
<rect x="977.4" y="171.2" width="19.6" height="19.6"/>
<rect x="985.0" y="172.1" width="19.6" height="19.6"/>
<rect x="992.6" y="173.0" width="19.6" height="19.6"/>
<rect x="1000.2" y="174.5" width="19.6" height="19.6"/>
<rect x="1007.8" y="176.6" width="19.6" height="19.6"/>
<rect x="1015.4" y="178.0" width="19.6" height="19.6"/>
<rect x="1023.0" y="179.6" width="19.6" height="19.6"/>
<rect x="1030.6" y="181.6" width="19.6" height="19.6"/>
<rect x="1038.2" y="182.8" width="19.6" height="19.6"/>
<rect x="1045.8" y="184.1" width="19.6" height="19.6"/>
<rect x="1053.4" y="186.3" width="19.6" height="19.6"/>
<rect x="1061.0" y="188.9" width="19.6" height="19.6"/>
<rect x="1068.6" y="191.3" width="19.6" height="19.6"/>
<rect x="1076.2" y="193.8" width="19.6" height="19.6"/>
<rect x="1083.8" y="197.1" width="19.6" height="19.6"/>
<rect x="1091.4" y="201.2" width="19.6" height="19.6"/>
<rect x="1098.9" y="204.0" width="19.6" height="19.6"/>
<rect x="1106.5" y="207.2" width="19.6" height="19.6"/>
<rect x="1114.1" y="210.9" width="19.6" height="19.6"/>
<rect x="1121.7" y="213.5" width="19.6" height="19.6"/>
<rect x="1129.3" y="218.3" width="19.6" height="19.6"/>
<rect x="1136.9" y="223.0" width="19.6" height="19.6"/>
<rect x="1144.5" y="227.5" width="19.6" height="19.6"/>
<rect x="1152.1" y="233.1" width="19.6" height="19.6"/>
<rect x="1159.7" y="238.3" width="19.6" height="19.6"/>
<rect x="1167.3" y="245.2" width="19.6" height="19.6"/>
<rect x="1174.9" y="251.6" width="19.6" height="19.6"/>
<rect x="1182.5" y="259.0" width="19.6" height="19.6"/>
<rect x="1190.1" y="266.4" width="19.6" height="19.6"/>
<rect x="1197.7" y="272.4" width="19.6" height="19.6"/>
<rect x="1205.3" y="279.9" width="19.6" height="19.6"/>
<rect x="1212.9" y="287.8" width="19.6" height="19.6"/>
<rect x="1220.5" y="296.8" width="19.6" height="19.6"/>
<rect x="1228.0" y="307.0" width="19.6" height="19.6"/>
<rect x="1235.6" y="318.1" width="19.6" height="19.6"/>
<rect x="1243.2" y="328.6" width="19.6" height="19.6"/>
<rect x="1250.8" y="337.5" width="19.6" height="19.6"/>
<rect x="1258.4" y="349.5" width="19.6" height="19.6"/>
<rect x="1266.0" y="363.5" width="19.6" height="19.6"/>
<rect x="1273.6" y="377.5" width="19.6" height="19.6"/>
<rect x="1281.2" y="392.3" width="19.6" height="19.6"/>
<rect x="1288.8" y="408.1" width="19.6" height="19.6"/>
<rect x="1296.4" y="425.3" width="19.6" height="19.6"/>
<rect x="1304.0" y="440.1" width="19.6" height="19.6"/>
<rect x="1311.6" y="454.4" width="19.6" height="19.6"/>
<rect x="1319.2" y="473.5" width="19.6" height="19.6"/>
<rect x="1326.8" y="493.1" width="19.6" height="19.6"/>
<rect x="1334.4" y="512.5" width="19.6" height="19.6"/>
<rect x="1342.0" y="534.1" width="19.6" height="19.6"/>
<rect x="1349.5" y="554.3" width="19.6" height="19.6"/>
<rect x="1357.1" y="572.0" width="19.6" height="19.6"/>
<rect x="1364.7" y="591.0" width="19.6" height="19.6"/>
<rect x="1372.3" y="613.7" width="19.6" height="19.6"/>
<rect x="1379.9" y="637.9" width="19.6" height="19.6"/>
<rect x="1387.5" y="661.1" width="19.6" height="19.6"/>
<rect x="1395.1" y="685.3" width="19.6" height="19.6"/>
<rect x="1402.7" y="710.1" width="19.6" height="19.6"/>
<rect x="1410.3" y="734.4" width="19.6" height="19.6"/>
<rect x="1417.9" y="756.9" width="19.6" height="19.6"/>
<rect x="1425.5" y="777.8" width="19.6" height="19.6"/>
<rect x="1433.1" y="802.4" width="19.6" height="19.6"/>
<rect x="1440.7" y="825.9" width="19.6" height="19.6"/>
<rect x="1448.3" y="850.2" width="19.6" height="19.6"/>
<rect x="1455.9" y="873.5" width="19.6" height="19.6"/>
<rect x="1463.5" y="894.8" width="19.6" height="19.6"/>
<rect x="1471.1" y="913.3" width="19.6" height="19.6"/>
<rect x="1478.6" y="933.7" width="19.6" height="19.6"/>
<rect x="1486.2" y="954.0" width="19.6" height="19.6"/>
<rect x="1493.8" y="972.0" width="19.6" height="19.6"/>
<rect x="1501.4" y="992.5" width="19.6" height="19.6"/>
<rect x="1509.0" y="1010.8" width="19.6" height="19.6"/>
<rect x="1516.6" y="1026.9" width="19.6" height="19.6"/>
<rect x="1524.2" y="1038.7" width="19.6" height="19.6"/>
<rect x="1531.8" y="1051.2" width="19.6" height="19.6"/>
<rect x="1539.4" y="1065.0" width="19.6" height="19.6"/>
<rect x="1547.0" y="1078.1" width="19.6" height="19.6"/>
<rect x="1554.6" y="1090.7" width="19.6" height="19.6"/>
<rect x="1562.2" y="1100.8" width="19.6" height="19.6"/>
<rect x="1569.8" y="1110.7" width="19.6" height="19.6"/>
<rect x="1577.4" y="1118.0" width="19.6" height="19.6"/>
<rect x="1585.0" y="1125.8" width="19.6" height="19.6"/>
<rect x="1592.6" y="1135.1" width="19.6" height="19.6"/>
<rect x="1600.2" y="1143.1" width="19.6" height="19.6"/>
<rect x="1607.7" y="1149.9" width="19.6" height="19.6"/>
<rect x="1615.3" y="1155.2" width="19.6" height="19.6"/>
<rect x="1622.9" y="1160.0" width="19.6" height="19.6"/>
<rect x="1630.5" y="1164.0" width="19.6" height="19.6"/>
<rect x="1638.1" y="1168.7" width="19.6" height="19.6"/>
<rect x="1645.7" y="1173.9" width="19.6" height="19.6"/>
<rect x="1653.3" y="1177.3" width="19.6" height="19.6"/>
<rect x="1660.9" y="1181.2" width="19.6" height="19.6"/>
<rect x="1668.5" y="1184.2" width="19.6" height="19.6"/>
<rect x="1676.1" y="1187.4" width="19.6" height="19.6"/>
<rect x="1683.7" y="1190.5" width="19.6" height="19.6"/>
<rect x="1691.3" y="1193.0" width="19.6" height="19.6"/>
<rect x="1698.9" y="1194.6" width="19.6" height="19.6"/>
<rect x="1706.5" y="1195.8" width="19.6" height="19.6"/>
<rect x="1714.1" y="1197.3" width="19.6" height="19.6"/>
<rect x="1721.7" y="1198.8" width="19.6" height="19.6"/>
<rect x="1729.2" y="1200.2" width="19.6" height="19.6"/>
<rect x="1736.8" y="1201.5" width="19.6" height="19.6"/>
<rect x="1744.4" y="1202.7" width="19.6" height="19.6"/>
<rect x="1752.0" y="1203.6" width="19.6" height="19.6"/>
<rect x="1759.6" y="1204.4" width="19.6" height="19.6"/>
<rect x="1767.2" y="1205.1" width="19.6" height="19.6"/>
<rect x="1774.8" y="1205.8" width="19.6" height="19.6"/>
<rect x="1782.4" y="1206.4" width="19.6" height="19.6"/>
<rect x="1790.0" y="1207.0" width="19.6" height="19.6"/>
<rect x="1797.6" y="1207.6" width="19.6" height="19.6"/>
<rect x="1805.2" y="1208.3" width="19.6" height="19.6"/>
<rect x="1812.8" y="1209.0" width="19.6" height="19.6"/>
<rect x="1820.4" y="1209.8" width="19.6" height="19.6"/>
<rect x="1828.0" y="1210.5" width="19.6" height="19.6"/>
<rect x="1835.6" y="1211.2" width="19.6" height="19.6"/>
<rect x="1843.2" y="1211.7" width="19.6" height="19.6"/>
<rect x="1850.8" y="1211.9" width="19.6" height="19.6"/>
<rect x="1858.3" y="1212.2" width="19.6" height="19.6"/>
<rect x="1865.9" y="1212.4" width="19.6" height="19.6"/>
<rect x="1873.5" y="1212.5" width="19.6" height="19.6"/>
<rect x="1881.1" y="1212.6" width="19.6" height="19.6"/>
<rect x="1888.7" y="1212.7" width="19.6" height="19.6"/>
<rect x="1896.3" y="1212.7" width="19.6" height="19.6"/>
<rect x="1903.9" y="1212.7" width="19.6" height="19.6"/>
<rect x="1911.5" y="1212.7" width="19.6" height="19.6"/>
<rect x="1919.1" y="1212.7" width="19.6" height="19.6"/>
<rect x="1926.7" y="1212.7" width="19.6" height="19.6"/>
<rect x="1934.3" y="1212.7" width="19.6" height="19.6"/>
<rect x="1941.9" y="1212.7" width="19.6" height="19.6"/>
<rect x="1949.5" y="1212.7" width="19.6" height="19.6"/>
<rect x="1957.1" y="1212.7" width="19.6" height="19.6"/>
<rect x="1964.7" y="1212.7" width="19.6" height="19.6"/>
<rect x="1972.3" y="1212.7" width="19.6" height="19.6"/>
<rect x="1979.9" y="1212.7" width="19.6" height="19.6"/>
<rect x="1987.4" y="1212.7" width="19.6" height="19.6"/>
<rect x="1995.0" y="1212.7" width="19.6" height="19.6"/>
<rect x="2002.6" y="1212.7" width="19.6" height="19.6"/>
<rect x="2010.2" y="1212.7" width="19.6" height="19.6"/>
<rect x="2017.8" y="1212.7" width="19.6" height="19.6"/>
<rect x="2025.4" y="1212.7" width="19.6" height="19.6"/>
<rect x="2033.0" y="1212.7" width="19.6" height="19.6"/>
<rect x="2040.6" y="1212.7" width="19.6" height="19.6"/>
<rect x="2048.2" y="1212.7" width="19.6" height="19.6"/>
<rect x="2055.8" y="1212.7" width="19.6" height="19.6"/>
<rect x="2063.4" y="1212.7" width="19.6" height="19.6"/>
<rect x="2071.0" y="1212.7" width="19.6" height="19.6"/>
<rect x="2078.6" y="1212.7" width="19.6" height="19.6"/>
<rect x="2086.2" y="1212.7" width="19.6" height="19.6"/>
<rect x="2093.8" y="1212.7" width="19.6" height="19.6"/>
<rect x="2101.4" y="1212.7" width="19.6" height="19.6"/>
<rect x="2108.9" y="1212.7" width="19.6" height="19.6"/>
<rect x="2116.5" y="1212.7" width="19.6" height="19.6"/>
<rect x="2124.1" y="1212.7" width="19.6" height="19.6"/>
<rect x="2131.7" y="1212.7" width="19.6" height="19.6"/>
<rect x="2139.3" y="1212.7" width="19.6" height="19.6"/>
<rect x="2146.9" y="1212.7" width="19.6" height="19.6"/>
<rect x="2154.5" y="1212.7" width="19.6" height="19.6"/>
<rect x="2162.1" y="1212.7" width="19.6" height="19.6"/>
<rect x="2169.7" y="1212.7" width="19.6" height="19.6"/>
</g>
<path d="M281.0 166.5 L283.0 166.5 L285.0 166.5 L287.0 166.5 L289.0 166.5 L291.0 166.5 L293.0 166.5 L295.0 166.5 L297.0 166.5 L299.0 166.5 L301.0 166.5 L303.0 166.5 L305.0 166.5 L307.0 166.5 L309.0 166.5 L311.0 166.5 L313.0 166.5 L315.0 166.5 L317.0 166.5 L319.0 166.5 L321.0 166.5 L323.0 166.5 L325.0 166.5 L327.0 166.5 L329.0 166.5 L331.0 166.5 L333.0 166.5 L335.0 166.5 L337.0 166.5 L339.0 166.5 L341.0 166.5 L343.0 166.5 L345.0 166.5 L347.0 166.5 L349.0 166.5 L351.0 166.5 L353.0 166.5 L355.0 166.5 L357.0 166.5 L359.0 166.5 L361.0 166.5 L363.0 166.5 L365.0 166.6 L367.0 166.6 L369.0 166.6 L371.0 166.6 L373.0 166.6 L375.0 166.6 L377.0 166.6 L379.0 166.6 L381.0 166.6 L383.0 166.6 L385.0 166.6 L387.0 166.6 L389.0 166.6 L391.0 166.6 L393.0 166.6 L395.0 166.6 L397.0 166.6 L399.0 166.6 L401.0 166.6 L403.0 166.6 L405.0 166.6 L407.0 166.6 L409.0 166.6 L411.0 166.6 L413.0 166.6 L415.0 166.6 L417.0 166.6 L419.0 166.6 L421.0 166.6 L423.0 166.6 L425.0 166.6 L427.0 166.6 L429.0 166.7 L431.0 166.7 L433.0 166.7 L435.0 166.7 L437.0 166.7 L439.0 166.7 L441.0 166.7 L443.0 166.7 L445.0 166.7 L447.0 166.7 L449.0 166.7 L451.0 166.7 L453.0 166.7 L455.0 166.7 L457.0 166.7 L459.0 166.7 L461.0 166.7 L463.0 166.7 L465.0 166.7 L467.0 166.7 L469.0 166.7 L471.0 166.7 L473.0 166.7 L475.0 166.8 L477.0 166.8 L479.0 166.8 L481.0 166.8 L483.0 166.8 L485.0 166.8 L487.0 166.8 L489.0 166.8 L491.0 166.8 L493.0 166.8 L495.0 166.8 L497.0 166.8 L499.0 166.8 L501.0 166.8 L503.0 166.8 L505.0 166.8 L507.0 166.8 L509.0 166.8 L511.0 166.8 L513.0 166.9 L515.0 166.9 L517.0 166.9 L519.0 166.9 L521.0 166.9 L523.0 166.9 L525.0 166.9 L527.0 166.9 L529.0 166.9 L531.0 166.9 L533.0 166.9 L535.0 166.9 L537.0 166.9 L539.0 166.9 L541.0 166.9 L543.0 166.9 L545.0 166.9 L547.0 167.0 L549.0 167.0 L551.0 167.0 L553.0 167.0 L555.0 167.0 L557.0 167.0 L559.0 167.0 L561.0 167.0 L563.0 167.0 L565.0 167.0 L567.0 167.0 L569.0 167.0 L571.0 167.0 L573.0 167.0 L575.0 167.0 L577.0 167.0 L579.0 167.1 L581.0 167.1 L583.0 167.1 L585.0 167.1 L587.0 167.1 L589.0 167.1 L591.0 167.1 L593.0 167.1 L595.0 167.1 L597.0 167.1 L599.0 167.1 L601.0 167.1 L603.0 167.1 L605.0 167.1 L607.0 167.1 L609.0 167.2 L611.0 167.2 L613.0 167.2 L615.0 167.2 L617.0 167.2 L619.0 167.2 L621.0 167.2 L623.0 167.2 L625.0 167.2 L627.0 167.2 L629.0 167.2 L631.0 167.2 L633.0 167.2 L635.0 167.3 L637.0 167.3 L639.0 167.3 L641.0 167.3 L643.0 167.3 L645.0 167.3 L647.0 167.3 L649.0 167.3 L651.0 167.3 L653.0 167.3 L655.0 167.3 L657.0 167.3 L659.0 167.3 L661.0 167.3 L663.0 167.4 L665.0 167.4 L667.0 167.4 L669.0 167.4 L671.0 167.4 L673.0 167.4 L675.0 167.4 L677.0 167.4 L679.0 167.4 L681.0 167.4 L683.0 167.4 L685.0 167.4 L687.0 167.4 L689.0 167.5 L691.0 167.5 L693.0 167.5 L695.0 167.5 L697.0 167.5 L699.0 167.5 L701.0 167.5 L703.0 167.5 L705.0 167.5 L707.0 167.5 L709.0 167.5 L711.0 167.5 L713.0 167.6 L715.0 167.6 L717.0 167.6 L719.0 167.6 L721.0 167.6 L723.0 167.6 L725.0 167.6 L727.0 167.6 L729.0 167.6 L731.0 167.6 L733.0 167.7 L735.0 167.7 L737.0 167.7 L739.0 167.7 L741.0 167.7 L743.0 167.7 L745.0 167.7 L747.0 167.7 L749.0 167.8 L751.0 167.8 L753.0 167.8 L755.0 167.8 L757.0 167.8 L759.0 167.8 L761.0 167.8 L763.0 167.9 L765.0 167.9 L767.0 167.9 L769.0 167.9 L771.0 167.9 L773.0 167.9 L775.0 167.9 L777.0 168.0 L779.0 168.0 L781.0 168.0 L783.0 168.0 L785.0 168.0 L787.0 168.0 L789.0 168.1 L791.0 168.1 L793.0 168.1 L795.0 168.1 L797.0 168.1 L799.0 168.1 L801.0 168.2 L803.0 168.2 L805.0 168.2 L807.0 168.2 L809.0 168.2 L811.0 168.2 L813.0 168.3 L815.0 168.3 L817.0 168.3 L819.0 168.3 L821.0 168.3 L823.0 168.4 L825.0 168.4 L827.0 168.4 L829.0 168.4 L831.0 168.4 L833.0 168.5 L835.0 168.5 L837.0 168.5 L839.0 168.5 L841.0 168.5 L843.0 168.6 L845.0 168.6 L847.0 168.6 L849.0 168.6 L851.0 168.6 L853.0 168.7 L855.0 168.7 L857.0 168.7 L859.0 168.7 L861.0 168.7 L863.0 168.8 L865.0 168.8 L867.0 168.8 L869.0 168.8 L871.0 168.9 L873.0 168.9 L875.0 168.9 L877.0 168.9 L879.0 168.9 L881.0 169.0 L883.0 169.0 L885.0 169.0 L887.0 169.0 L889.0 169.1 L891.0 169.1 L893.0 169.1 L895.0 169.1 L897.0 169.2 L899.0 169.2 L901.0 169.2 L903.0 169.2 L905.0 169.3 L907.0 169.3 L909.0 169.3 L911.0 169.3 L913.0 169.4 L915.0 169.4 L917.0 169.4 L919.0 169.4 L921.0 169.5 L923.0 169.5 L925.0 169.5 L927.0 169.5 L929.0 169.6 L931.0 169.6 L933.0 169.6 L935.0 169.6 L937.0 169.7 L939.0 169.7 L941.0 169.7 L943.0 169.7 L945.0 169.8 L947.0 169.8 L949.0 169.8 L951.0 169.8 L953.0 169.9 L955.0 169.9 L957.0 169.9 L959.0 169.9 L961.0 170.0 L963.0 170.0 L965.0 170.0 L967.0 170.1 L969.0 170.1 L971.0 170.1 L973.0 170.1 L975.0 170.2 L977.0 170.2 L979.0 170.2 L981.0 170.2 L983.0 170.3 L985.0 170.3 L987.0 170.3 L989.0 170.3 L991.0 170.4 L993.0 170.4 L995.0 170.4 L997.0 170.5 L999.0 170.5 L1001.0 170.5 L1003.0 170.5 L1005.0 170.6 L1007.0 170.6 L1009.0 170.6 L1011.0 170.7 L1013.0 170.7 L1015.0 170.7 L1017.0 170.8 L1019.0 170.8 L1021.0 170.8 L1023.0 170.9 L1025.0 170.9 L1027.0 170.9 L1029.0 171.0 L1031.0 171.0 L1033.0 171.0 L1035.0 171.1 L1037.0 171.1 L1039.0 171.1 L1041.0 171.2 L1043.0 171.2 L1045.0 171.3 L1047.0 171.3 L1049.0 171.3 L1051.0 171.4 L1053.0 171.4 L1055.0 171.4 L1057.0 171.5 L1059.0 171.5 L1061.0 171.6 L1063.0 171.6 L1065.0 171.7 L1067.0 171.7 L1069.0 171.7 L1071.0 171.8 L1073.0 171.8 L1075.0 171.9 L1077.0 171.9 L1079.0 171.9 L1081.0 172.0 L1083.0 172.0 L1085.0 172.1 L1087.0 172.1 L1089.0 172.2 L1091.0 172.2 L1093.0 172.2 L1095.0 172.3 L1097.0 172.3 L1099.0 172.4 L1101.0 172.4 L1103.0 172.5 L1105.0 172.5 L1107.0 172.6 L1109.0 172.6 L1111.0 172.6 L1113.0 172.7 L1115.0 172.7 L1117.0 172.8 L1119.0 172.8 L1121.0 172.9 L1123.0 172.9 L1125.0 173.0 L1127.0 173.0 L1129.0 173.0 L1131.0 173.1 L1133.0 173.1 L1135.0 173.2 L1137.0 173.2 L1139.0 173.3 L1141.0 173.3 L1143.0 173.3 L1145.0 173.4 L1147.0 173.4 L1149.0 173.5 L1151.0 173.5 L1153.0 173.6 L1155.0 173.6 L1157.0 173.6 L1159.0 173.7 L1161.0 173.7 L1163.0 173.8 L1165.0 173.8 L1167.0 173.8 L1169.0 173.9 L1171.0 173.9 L1173.0 173.9 L1175.0 174.0 L1177.0 174.0 L1179.0 174.1 L1181.0 174.1 L1183.0 174.1 L1185.0 174.2 L1187.0 174.2 L1189.0 174.2 L1191.0 174.3 L1193.0 174.3 L1195.0 174.3 L1197.0 174.4 L1199.0 174.4 L1201.0 174.5 L1203.0 174.5 L1205.0 174.5 L1207.0 174.6 L1209.0 174.6 L1211.0 174.7 L1213.0 174.7 L1215.0 174.7 L1217.0 174.8 L1219.0 174.8 L1221.0 174.9 L1223.0 174.9 L1225.0 175.0 L1227.0 175.0 L1229.0 175.1 L1231.0 175.1 L1233.0 175.2 L1235.0 175.2 L1237.0 175.3 L1239.0 175.3 L1241.0 175.4 L1243.0 175.4 L1245.0 175.5 L1247.0 175.6 L1249.0 175.6 L1251.0 175.7 L1253.0 175.8 L1255.0 175.8 L1257.0 175.9 L1259.0 176.0 L1261.0 176.0 L1263.0 176.1 L1265.0 176.2 L1267.0 176.3 L1269.0 176.4 L1271.0 176.5 L1273.0 176.6 L1275.0 176.8 L1277.0 176.9 L1279.0 177.0 L1281.0 177.2 L1283.0 177.3 L1285.0 177.5 L1287.0 177.6 L1289.0 177.8 L1291.0 177.9 L1293.0 178.1 L1295.0 178.3 L1297.0 178.4 L1299.0 178.6 L1301.0 178.8 L1303.0 179.0 L1305.0 179.2 L1307.0 179.4 L1309.0 179.6 L1311.0 179.8 L1313.0 180.0 L1315.0 180.2 L1317.0 180.5 L1319.0 180.8 L1321.0 181.0 L1323.0 181.3 L1325.0 181.6 L1327.0 182.0 L1329.0 182.4 L1331.0 182.8 L1333.0 183.2 L1335.0 183.7 L1337.0 184.2 L1339.0 184.7 L1341.0 185.3 L1343.0 185.9 L1345.0 186.5 L1347.0 187.2 L1349.0 187.9 L1351.0 188.6 L1353.0 189.3 L1355.0 190.1 L1357.0 191.0 L1359.0 191.9 L1361.0 192.9 L1363.0 194.0 L1365.0 195.1 L1367.0 196.2 L1369.0 197.5 L1371.0 198.7 L1373.0 200.1 L1375.0 201.5 L1377.0 203.1 L1379.0 204.7 L1381.0 206.4 L1383.0 208.3 L1385.0 210.3 L1387.0 212.4 L1389.0 214.7 L1391.0 217.1 L1393.0 219.7 L1395.0 222.6 L1397.0 225.7 L1399.0 229.1 L1401.0 232.7 L1403.0 236.6 L1405.0 240.7 L1407.0 245.2 L1409.0 250.0 L1411.0 255.2 L1413.0 260.8 L1415.0 266.7 L1417.0 272.9 L1419.0 279.5 L1421.0 286.5 L1423.0 293.9 L1425.0 301.8 L1427.0 310.2 L1429.0 319.0 L1431.0 328.2 L1433.0 337.7 L1435.0 347.6 L1437.0 357.7 L1439.0 368.0 L1441.0 378.4 L1443.0 389.0 L1445.0 399.9 L1447.0 411.1 L1449.0 422.5 L1451.0 434.4 L1453.0 446.7 L1455.0 459.4 L1457.0 472.6 L1459.0 486.5 L1461.0 501.2 L1463.0 516.8 L1465.0 533.1 L1467.0 549.6 L1469.0 566.0 L1471.0 581.9 L1473.0 597.4 L1475.0 612.6 L1477.0 627.7 L1479.0 642.7 L1481.0 658.0 L1483.0 673.6 L1485.0 689.5 L1487.0 705.6 L1489.0 722.1 L1491.0 738.6 L1493.0 755.1 L1495.0 771.5 L1497.0 787.7 L1499.0 803.7 L1501.0 819.4 L1503.0 834.8 L1505.0 849.9 L1507.0 864.4 L1509.0 878.5 L1511.0 891.9 L1513.0 904.7 L1515.0 917.0 L1517.0 928.8 L1519.0 940.3 L1521.0 951.5 L1523.0 962.6 L1525.0 973.8 L1527.0 985.0 L1529.0 996.0 L1531.0 1006.6 L1533.0 1016.7 L1535.0 1026.2 L1537.0 1035.2 L1539.0 1043.6 L1541.0 1051.6 L1543.0 1059.4 L1545.0 1067.0 L1547.0 1074.5 L1549.0 1081.9 L1551.0 1088.9 L1553.0 1095.6 L1555.0 1101.8 L1557.0 1107.5 L1559.0 1112.9 L1561.0 1118.0 L1563.0 1123.0 L1565.0 1127.8 L1567.0 1132.4 L1569.0 1136.8 L1571.0 1141.0 L1573.0 1145.0 L1575.0 1148.7 L1577.0 1152.2 L1579.0 1155.5 L1581.0 1158.6 L1583.0 1161.6 L1585.0 1164.5 L1587.0 1167.2 L1589.0 1169.8 L1591.0 1172.3 L1593.0 1174.7 L1595.0 1176.9 L1597.0 1179.0 L1599.0 1181.0 L1601.0 1182.8 L1603.0 1184.4 L1605.0 1186.0 L1607.0 1187.5 L1609.0 1188.9 L1611.0 1190.3 L1613.0 1191.6 L1615.0 1192.8 L1617.0 1194.0 L1619.0 1195.1 L1621.0 1196.2 L1623.0 1197.3 L1625.0 1198.3 L1627.0 1199.3 L1629.0 1200.2 L1631.0 1201.0 L1633.0 1201.8 L1635.0 1202.5 L1637.0 1203.3 L1639.0 1203.9 L1641.0 1204.6 L1643.0 1205.2 L1645.0 1205.8 L1647.0 1206.4 L1649.0 1206.9 L1651.0 1207.4 L1653.0 1207.8 L1655.0 1208.2 L1657.0 1208.6 L1659.0 1208.9 L1661.0 1209.2 L1663.0 1209.5 L1665.0 1209.8 L1667.0 1210.0 L1669.0 1210.3 L1671.0 1210.5 L1673.0 1210.8 L1675.0 1211.0 L1677.0 1211.2 L1679.0 1211.4 L1681.0 1211.6 L1683.0 1211.8 L1685.0 1211.9 L1687.0 1212.1 L1689.0 1212.2 L1691.0 1212.4 L1693.0 1212.5 L1695.0 1212.7 L1697.0 1212.8 L1699.0 1212.9 L1701.0 1213.0 L1703.0 1213.1 L1705.0 1213.2 L1707.0 1213.3 L1709.0 1213.4 L1711.0 1213.5 L1713.0 1213.6 L1715.0 1213.7 L1717.0 1213.8 L1719.0 1213.9 L1721.0 1214.0 L1723.0 1214.0 L1725.0 1214.1 L1727.0 1214.2 L1729.0 1214.3 L1731.0 1214.4 L1733.0 1214.5 L1735.0 1214.6 L1737.0 1214.7 L1739.0 1214.8 L1741.0 1214.9 L1743.0 1215.0 L1745.0 1215.1 L1747.0 1215.2 L1749.0 1215.3 L1751.0 1215.4 L1753.0 1215.5 L1755.0 1215.6 L1757.0 1215.7 L1759.0 1215.8 L1761.0 1216.0 L1763.0 1216.1 L1765.0 1216.2 L1767.0 1216.3 L1769.0 1216.4 L1771.0 1216.5 L1773.0 1216.6 L1775.0 1216.7 L1777.0 1216.8 L1779.0 1216.9 L1781.0 1216.9 L1783.0 1217.0 L1785.0 1217.1 L1787.0 1217.2 L1789.0 1217.2 L1791.0 1217.3 L1793.0 1217.3 L1795.0 1217.4 L1797.0 1217.4 L1799.0 1217.5 L1801.0 1217.6 L1803.0 1217.6 L1805.0 1217.7 L1807.0 1217.7 L1809.0 1217.7 L1811.0 1217.8 L1813.0 1217.8 L1815.0 1217.9 L1817.0 1217.9 L1819.0 1218.0 L1821.0 1218.0 L1823.0 1218.1 L1825.0 1218.1 L1827.0 1218.1 L1829.0 1218.2 L1831.0 1218.2 L1833.0 1218.2 L1835.0 1218.3 L1837.0 1218.3 L1839.0 1218.4 L1841.0 1218.4 L1843.0 1218.4 L1845.0 1218.5 L1847.0 1218.5 L1849.0 1218.5 L1851.0 1218.6 L1853.0 1218.6 L1855.0 1218.6 L1857.0 1218.7 L1859.0 1218.7 L1861.0 1218.7 L1863.0 1218.7 L1865.0 1218.8 L1867.0 1218.8 L1869.0 1218.8 L1871.0 1218.9 L1873.0 1218.9 L1875.0 1218.9 L1877.0 1219.0 L1879.0 1219.0 L1881.0 1219.0 L1883.0 1219.0 L1885.0 1219.1 L1887.0 1219.1 L1889.0 1219.1 L1891.0 1219.2 L1893.0 1219.2 L1895.0 1219.2 L1897.0 1219.3 L1899.0 1219.3 L1901.0 1219.3 L1903.0 1219.3 L1905.0 1219.4 L1907.0 1219.4 L1909.0 1219.4 L1911.0 1219.5 L1913.0 1219.5 L1915.0 1219.5 L1917.0 1219.6 L1919.0 1219.6 L1921.0 1219.6 L1923.0 1219.7 L1925.0 1219.7 L1927.0 1219.7 L1929.0 1219.8 L1931.0 1219.8 L1933.0 1219.8 L1935.0 1219.9 L1937.0 1219.9 L1939.0 1219.9 L1941.0 1220.0 L1943.0 1220.0 L1945.0 1220.0 L1947.0 1220.1 L1949.0 1220.1 L1951.0 1220.1 L1953.0 1220.2 L1955.0 1220.2 L1957.0 1220.2 L1959.0 1220.3 L1961.0 1220.3 L1963.0 1220.3 L1965.0 1220.4 L1967.0 1220.4 L1969.0 1220.4 L1971.0 1220.5 L1973.0 1220.5 L1975.0 1220.5 L1977.0 1220.6 L1979.0 1220.6 L1981.0 1220.6 L1983.0 1220.7 L1985.0 1220.7 L1987.0 1220.7 L1989.0 1220.7 L1991.0 1220.8 L1993.0 1220.8 L1995.0 1220.8 L1997.0 1220.8 L1999.0 1220.9 L2001.0 1220.9 L2003.0 1220.9 L2005.0 1220.9 L2007.0 1221.0 L2009.0 1221.0 L2011.0 1221.0 L2013.0 1221.0 L2015.0 1221.0 L2017.0 1221.0 L2019.0 1221.1 L2021.0 1221.1 L2023.0 1221.1 L2025.0 1221.1 L2027.0 1221.1 L2029.0 1221.1 L2031.0 1221.1 L2033.0 1221.2 L2035.0 1221.2 L2037.0 1221.2 L2039.0 1221.2 L2041.0 1221.2 L2043.0 1221.2 L2045.0 1221.2 L2047.0 1221.2 L2049.0 1221.2 L2051.0 1221.2 L2053.0 1221.2 L2055.0 1221.2 L2057.0 1221.2 L2059.0 1221.2 L2061.0 1221.2 L2063.0 1221.2 L2065.0 1221.2 L2067.0 1221.2 L2069.0 1221.2 L2071.0 1221.2 L2073.0 1221.2 L2075.0 1221.2 L2077.0 1221.2 L2079.0 1221.2 L2081.0 1221.2 L2083.0 1221.2 L2085.0 1221.2 L2087.0 1221.2 L2089.0 1221.2 L2091.0 1221.2 L2093.0 1221.2 L2095.0 1221.2 L2097.0 1221.2 L2099.0 1221.2 L2101.0 1221.2 L2103.0 1221.2 L2105.0 1221.2 L2107.0 1221.2 L2109.0 1221.2 L2111.0 1221.2 L2113.0 1221.2 L2115.0 1221.2 L2117.0 1221.2 L2119.0 1221.2 L2121.0 1221.2 L2123.0 1221.2 L2125.0 1221.2 L2127.0 1221.2 L2129.0 1221.2 L2131.0 1221.2 L2133.0 1221.2 L2135.0 1221.2 L2137.0 1221.2 L2139.0 1221.2 L2141.0 1221.2 L2143.0 1221.2 L2145.0 1221.2 L2147.0 1221.2 L2149.0 1221.2 L2151.0 1221.2 L2153.0 1221.2 L2155.0 1221.2 L2157.0 1221.2 L2159.0 1221.2 L2161.0 1221.2 L2163.0 1221.2 L2165.0 1221.2 L2167.0 1221.2 L2169.0 1221.2 L2171.0 1221.2 L2173.0 1221.2 L2175.0 1221.2 L2177.0 1221.2 L2179.0 1221.2" fill="none" stroke="#0000ff" stroke-width="12.0" stroke-linejoin="round"/>
<path d="M281.0 164.0 L283.0 164.0 L285.0 164.0 L287.0 164.0 L289.0 164.0 L291.0 164.0 L293.0 164.0 L295.0 164.0 L297.0 164.0 L299.0 164.0 L301.0 164.0 L303.0 164.0 L305.0 164.0 L307.0 164.0 L309.0 164.0 L311.0 164.0 L313.0 164.0 L315.0 164.0 L317.0 164.0 L319.0 164.0 L321.0 164.0 L323.0 164.0 L325.0 164.0 L327.0 164.0 L329.0 164.0 L331.0 164.0 L333.0 164.0 L335.0 164.0 L337.0 164.0 L339.0 164.0 L341.0 164.0 L343.0 164.0 L345.0 164.0 L347.0 164.0 L349.0 164.0 L351.0 164.0 L353.0 164.0 L355.0 164.0 L357.0 164.0 L359.0 164.0 L361.0 164.0 L363.0 164.0 L365.0 164.0 L367.0 164.0 L369.0 164.0 L371.0 164.0 L373.0 164.0 L375.0 164.0 L377.0 164.0 L379.0 164.0 L381.0 164.0 L383.0 164.0 L385.0 164.0 L387.0 164.0 L389.0 164.0 L391.0 164.0 L393.0 164.0 L395.0 164.0 L397.0 164.0 L399.0 164.0 L401.0 164.0 L403.0 164.0 L405.0 164.0 L407.0 164.0 L409.0 164.0 L411.0 164.0 L413.0 164.0 L415.0 164.0 L417.0 164.0 L419.0 164.0 L421.0 164.0 L423.0 164.0 L425.0 164.0 L427.0 164.0 L429.0 164.0 L431.0 164.0 L433.0 164.0 L435.0 164.0 L437.0 164.0 L439.0 164.0 L441.0 164.0 L443.0 164.0 L445.0 164.0 L447.0 164.0 L449.0 164.0 L451.0 164.0 L453.0 164.0 L455.0 164.0 L457.0 164.0 L459.0 164.0 L461.0 164.0 L463.0 164.0 L465.0 164.0 L467.0 164.0 L469.0 164.0 L471.0 164.0 L473.0 164.0 L475.0 164.0 L477.0 164.0 L479.0 164.0 L481.0 164.0 L483.0 164.0 L485.0 164.0 L487.0 164.0 L489.0 164.0 L491.0 164.0 L493.0 164.0 L495.0 164.0 L497.0 164.0 L499.0 164.0 L501.0 164.0 L503.0 164.0 L505.0 164.0 L507.0 164.0 L509.0 164.0 L511.0 164.0 L513.0 164.0 L515.0 164.0 L517.0 164.0 L519.0 164.0 L521.0 164.0 L523.0 164.0 L525.0 164.0 L527.0 164.0 L529.0 164.0 L531.0 164.0 L533.0 164.0 L535.0 164.0 L537.0 164.0 L539.0 164.0 L541.0 164.0 L543.0 164.0 L545.0 164.0 L547.0 164.0 L549.0 164.0 L551.0 164.0 L553.0 164.0 L555.0 164.0 L557.0 164.0 L559.0 164.0 L561.0 164.0 L563.0 164.0 L565.0 164.0 L567.0 164.0 L569.0 164.0 L571.0 164.0 L573.0 164.0 L575.0 164.0 L577.0 164.0 L579.0 164.0 L581.0 164.0 L583.0 164.0 L585.0 164.0 L587.0 164.0 L589.0 164.0 L591.0 164.0 L593.0 164.0 L595.0 164.0 L597.0 164.0 L599.0 164.0 L601.0 164.0 L603.0 164.0 L605.0 164.0 L607.0 164.0 L609.0 164.0 L611.0 164.0 L613.0 164.0 L615.0 164.0 L617.0 164.0 L619.0 164.0 L621.0 164.0 L623.0 164.0 L625.0 164.0 L627.0 164.0 L629.0 164.0 L631.0 164.0 L633.0 164.0 L635.0 164.0 L637.0 164.0 L639.0 164.0 L641.0 164.0 L643.0 164.0 L645.0 164.0 L647.0 164.0 L649.0 164.0 L651.0 164.0 L653.0 164.0 L655.0 164.0 L657.0 164.0 L659.0 164.0 L661.0 164.0 L663.0 164.0 L665.0 164.0 L667.0 164.0 L669.0 164.0 L671.0 164.0 L673.0 164.0 L675.0 164.0 L677.0 164.0 L679.0 164.0 L681.0 164.0 L683.0 164.0 L685.0 164.0 L687.0 164.0 L689.0 164.0 L691.0 164.0 L693.0 164.0 L695.0 164.0 L697.0 164.0 L699.0 164.0 L701.0 164.0 L703.0 164.0 L705.0 164.0 L707.0 164.0 L709.0 164.0 L711.0 164.0 L713.0 164.0 L715.0 164.0 L717.0 164.0 L719.0 164.0 L721.0 164.0 L723.0 164.0 L725.0 164.0 L727.0 164.0 L729.0 164.0 L731.0 164.0 L733.0 164.0 L735.0 164.0 L737.0 164.0 L739.0 164.0 L741.0 164.0 L743.0 164.0 L745.0 164.0 L747.0 164.0 L749.0 164.0 L751.0 164.0 L753.0 164.0 L755.0 164.0 L757.0 164.0 L759.0 164.0 L761.0 164.0 L763.0 164.0 L765.0 164.0 L767.0 164.0 L769.0 164.0 L771.0 164.0 L773.0 164.0 L775.0 164.0 L777.0 164.0 L779.0 164.0 L781.0 164.0 L783.0 164.0 L785.0 164.0 L787.0 164.0 L789.0 164.0 L791.0 164.0 L793.0 164.0 L795.0 164.0 L797.0 164.0 L799.0 164.0 L801.0 164.0 L803.0 164.0 L805.0 164.0 L807.0 164.0 L809.0 164.0 L811.0 164.0 L813.0 164.0 L815.0 164.0 L817.0 164.0 L819.0 164.0 L821.0 164.0 L823.0 164.0 L825.0 164.0 L827.0 164.0 L829.0 164.0 L831.0 164.0 L833.0 164.0 L835.0 164.0 L837.0 164.0 L839.0 164.0 L841.0 164.0 L843.0 164.0 L845.0 164.0 L847.0 164.0 L849.0 164.0 L851.0 164.0 L853.0 164.0 L855.0 164.0 L857.0 164.0 L859.0 164.0 L861.0 164.0 L863.0 164.0 L865.0 164.0 L867.0 164.0 L869.0 164.0 L871.0 164.0 L873.0 164.0 L875.0 164.0 L877.0 164.0 L879.0 164.0 L881.0 164.0 L883.0 164.0 L885.0 164.0 L887.0 164.0 L889.0 164.0 L891.0 164.0 L893.0 164.0 L895.0 164.0 L897.0 164.0 L899.0 164.0 L901.0 164.0 L903.0 164.0 L905.0 164.0 L907.0 164.0 L909.0 164.0 L911.0 164.0 L913.0 164.0 L915.0 164.0 L917.0 164.0 L919.0 164.0 L921.0 164.0 L923.0 164.0 L925.0 164.0 L927.0 164.0 L929.0 164.0 L931.0 164.0 L933.0 164.0 L935.0 164.0 L937.0 164.0 L939.0 164.0 L941.0 164.0 L943.0 164.0 L945.0 164.0 L947.0 164.0 L949.0 164.0 L951.0 164.0 L953.0 164.0 L955.0 164.0 L957.0 164.0 L959.0 164.0 L961.0 164.0 L963.0 164.0 L965.0 164.0 L967.0 164.0 L969.0 164.0 L971.0 164.0 L973.0 164.0 L975.0 164.0 L977.0 164.0 L979.0 164.0 L981.0 164.0 L983.0 164.0 L985.0 164.0 L987.0 164.0 L989.0 164.0 L991.0 164.0 L993.0 164.0 L995.0 164.0 L997.0 164.0 L999.0 164.0 L1001.0 164.0 L1003.0 164.0 L1005.0 164.0 L1007.0 164.0 L1009.0 164.0 L1011.0 164.0 L1013.0 164.0 L1015.0 164.0 L1017.0 164.0 L1019.0 164.0 L1021.0 164.0 L1023.0 164.0 L1025.0 164.0 L1027.0 164.0 L1029.0 164.0 L1031.0 164.0 L1033.0 164.0 L1035.0 164.0 L1037.0 164.0 L1039.0 164.0 L1041.0 164.0 L1043.0 164.0 L1045.0 164.0 L1047.0 164.0 L1049.0 164.0 L1051.0 164.0 L1053.0 164.0 L1055.0 164.0 L1057.0 164.0 L1059.0 164.0 L1061.0 164.0 L1063.0 164.0 L1065.0 164.0 L1067.0 164.0 L1069.0 164.0 L1071.0 164.0 L1073.0 164.0 L1075.0 164.0 L1077.0 164.0 L1079.0 164.0 L1081.0 164.0 L1083.0 164.0 L1085.0 164.0 L1087.0 164.0 L1089.0 164.0 L1091.0 164.0 L1093.0 164.0 L1095.0 164.0 L1097.0 164.0 L1099.0 164.0 L1101.0 164.0 L1103.0 164.0 L1105.0 164.0 L1107.0 164.0 L1109.0 164.0 L1111.0 164.0 L1113.0 164.0 L1115.0 164.0 L1117.0 164.0 L1119.0 164.0 L1121.0 164.0 L1123.0 164.0 L1125.0 164.0 L1127.0 164.0 L1129.0 164.0 L1131.0 164.0 L1133.0 164.0 L1135.0 164.0 L1137.0 164.0 L1139.0 164.0 L1141.0 164.0 L1143.0 164.0 L1145.0 164.0 L1147.0 164.0 L1149.0 164.0 L1151.0 164.0 L1153.0 164.0 L1155.0 164.0 L1157.0 164.0 L1159.0 164.0 L1161.0 164.0 L1163.0 164.0 L1165.0 164.0 L1167.0 164.0 L1169.0 164.0 L1171.0 164.0 L1173.0 164.0 L1175.0 164.0 L1177.0 164.0 L1179.0 164.0 L1181.0 164.0 L1183.0 164.0 L1185.0 164.0 L1187.0 164.0 L1189.0 164.0 L1191.0 164.0 L1193.0 164.0 L1195.0 164.0 L1197.0 164.0 L1199.0 164.0 L1201.0 164.0 L1203.0 164.0 L1205.0 164.0 L1207.0 164.0 L1209.0 164.0 L1211.0 164.0 L1213.0 164.0 L1215.0 164.0 L1217.0 164.0 L1219.0 164.0 L1221.0 164.0 L1223.0 164.0 L1225.0 164.0 L1227.0 164.0 L1229.0 164.0 L1231.0 164.0 L1233.0 164.0 L1235.0 164.0 L1237.0 164.0 L1239.0 164.0 L1241.0 164.0 L1243.0 164.0 L1245.0 164.0 L1247.0 164.0 L1249.0 164.0 L1251.0 164.0 L1253.0 164.0 L1255.0 164.0 L1257.0 164.0 L1259.0 164.0 L1261.0 164.0 L1263.0 164.0 L1265.0 164.0 L1267.0 164.0 L1269.0 164.0 L1271.0 164.0 L1273.0 164.0 L1275.0 164.0 L1277.0 164.0 L1279.0 164.0 L1281.0 164.0 L1283.0 164.0 L1285.0 164.0 L1287.0 164.0 L1289.0 164.0 L1291.0 164.0 L1293.0 164.0 L1295.0 164.0 L1297.0 164.0 L1299.0 164.0 L1301.0 164.0 L1303.0 164.0 L1305.0 164.0 L1307.0 164.0 L1309.0 164.0 L1311.0 164.1 L1313.0 164.1 L1315.0 164.1 L1317.0 164.1 L1319.0 164.1 L1321.0 164.2 L1323.0 164.2 L1325.0 164.2 L1327.0 164.3 L1329.0 164.3 L1331.0 164.4 L1333.0 164.4 L1335.0 164.4 L1337.0 164.5 L1339.0 164.5 L1341.0 164.6 L1343.0 164.6 L1345.0 164.7 L1347.0 164.8 L1349.0 164.8 L1351.0 164.9 L1353.0 164.9 L1355.0 165.0 L1357.0 165.1 L1359.0 165.1 L1361.0 165.2 L1363.0 165.2 L1365.0 165.3 L1367.0 165.4 L1369.0 165.4 L1371.0 165.5 L1373.0 165.6 L1375.0 165.6 L1377.0 165.7 L1379.0 165.8 L1381.0 165.8 L1383.0 165.9 L1385.0 166.0 L1387.0 166.1 L1389.0 166.1 L1391.0 166.2 L1393.0 166.3 L1395.0 166.4 L1397.0 166.5 L1399.0 166.6 L1401.0 166.7 L1403.0 166.8 L1405.0 166.9 L1407.0 167.0 L1409.0 167.1 L1411.0 167.3 L1413.0 167.4 L1415.0 167.5 L1417.0 167.6 L1419.0 167.8 L1421.0 167.9 L1423.0 168.0 L1425.0 168.2 L1427.0 168.3 L1429.0 168.5 L1431.0 168.6 L1433.0 168.8 L1435.0 168.9 L1437.0 169.1 L1439.0 169.3 L1441.0 169.5 L1443.0 169.6 L1445.0 169.8 L1447.0 170.0 L1449.0 170.3 L1451.0 170.5 L1453.0 170.7 L1455.0 170.9 L1457.0 171.2 L1459.0 171.4 L1461.0 171.7 L1463.0 171.9 L1465.0 172.2 L1467.0 172.5 L1469.0 172.8 L1471.0 173.1 L1473.0 173.4 L1475.0 173.7 L1477.0 174.0 L1479.0 174.3 L1481.0 174.7 L1483.0 175.0 L1485.0 175.4 L1487.0 175.8 L1489.0 176.2 L1491.0 176.6 L1493.0 177.1 L1495.0 177.5 L1497.0 178.0 L1499.0 178.5 L1501.0 179.0 L1503.0 179.5 L1505.0 180.1 L1507.0 180.7 L1509.0 181.3 L1511.0 181.9 L1513.0 182.6 L1515.0 183.3 L1517.0 184.0 L1519.0 184.8 L1521.0 185.6 L1523.0 186.4 L1525.0 187.3 L1527.0 188.2 L1529.0 189.2 L1531.0 190.2 L1533.0 191.4 L1535.0 192.6 L1537.0 193.9 L1539.0 195.3 L1541.0 196.7 L1543.0 198.3 L1545.0 200.0 L1547.0 201.8 L1549.0 203.6 L1551.0 205.6 L1553.0 207.5 L1555.0 209.5 L1557.0 211.5 L1559.0 213.6 L1561.0 215.8 L1563.0 218.1 L1565.0 220.6 L1567.0 223.3 L1569.0 226.3 L1571.0 229.5 L1573.0 233.0 L1575.0 236.7 L1577.0 240.7 L1579.0 245.0 L1581.0 249.6 L1583.0 254.5 L1585.0 259.7 L1587.0 265.0 L1589.0 270.5 L1591.0 276.3 L1593.0 282.3 L1595.0 288.8 L1597.0 295.7 L1599.0 303.1 L1601.0 311.0 L1603.0 319.3 L1605.0 328.0 L1607.0 336.9 L1609.0 346.3 L1611.0 356.1 L1613.0 366.3 L1615.0 377.1 L1617.0 388.4 L1619.0 400.2 L1621.0 412.5 L1623.0 425.3 L1625.0 438.5 L1627.0 452.1 L1629.0 466.0 L1631.0 480.3 L1633.0 495.2 L1635.0 510.9 L1637.0 527.8 L1639.0 545.4 L1641.0 563.3 L1643.0 581.1 L1645.0 598.7 L1647.0 616.3 L1649.0 634.1 L1651.0 652.4 L1653.0 671.5 L1655.0 691.6 L1657.0 712.6 L1659.0 734.4 L1661.0 756.7 L1663.0 779.2 L1665.0 801.7 L1667.0 824.1 L1669.0 845.9 L1671.0 866.9 L1673.0 886.5 L1675.0 904.4 L1677.0 920.5 L1679.0 935.0 L1681.0 948.4 L1683.0 961.3 L1685.0 974.4 L1687.0 987.7 L1689.0 1001.0 L1691.0 1014.0 L1693.0 1026.6 L1695.0 1038.7 L1697.0 1050.3 L1699.0 1061.3 L1701.0 1071.7 L1703.0 1081.5 L1705.0 1090.5 L1707.0 1098.9 L1709.0 1106.7 L1711.0 1113.8 L1713.0 1120.3 L1715.0 1126.3 L1717.0 1131.7 L1719.0 1136.7 L1721.0 1141.2 L1723.0 1145.4 L1725.0 1149.2 L1727.0 1152.7 L1729.0 1155.8 L1731.0 1158.6 L1733.0 1161.2 L1735.0 1163.5 L1737.0 1165.7 L1739.0 1167.7 L1741.0 1169.6 L1743.0 1171.4 L1745.0 1173.1 L1747.0 1174.7 L1749.0 1176.2 L1751.0 1177.7 L1753.0 1179.2 L1755.0 1180.6 L1757.0 1182.1 L1759.0 1183.6 L1761.0 1185.1 L1763.0 1186.5 L1765.0 1188.0 L1767.0 1189.4 L1769.0 1190.8 L1771.0 1192.1 L1773.0 1193.4 L1775.0 1194.7 L1777.0 1195.9 L1779.0 1197.1 L1781.0 1198.3 L1783.0 1199.5 L1785.0 1200.6 L1787.0 1201.7 L1789.0 1202.7 L1791.0 1203.8 L1793.0 1204.8 L1795.0 1205.8 L1797.0 1206.7 L1799.0 1207.7 L1801.0 1208.6 L1803.0 1209.4 L1805.0 1210.3 L1807.0 1211.1 L1809.0 1211.9 L1811.0 1212.7 L1813.0 1213.4 L1815.0 1214.1 L1817.0 1214.9 L1819.0 1215.6 L1821.0 1216.3 L1823.0 1216.9 L1825.0 1217.6 L1827.0 1218.2 L1829.0 1218.7 L1831.0 1219.3 L1833.0 1219.7 L1835.0 1220.1 L1837.0 1220.5 L1839.0 1220.8 L1841.0 1221.1 L1843.0 1221.4 L1845.0 1221.7 L1847.0 1222.0 L1849.0 1222.3 L1851.0 1222.5 L1853.0 1222.8 L1855.0 1223.0 L1857.0 1223.2 L1859.0 1223.4 L1861.0 1223.5 L1863.0 1223.7 L1865.0 1223.8 L1867.0 1223.8 L1869.0 1223.9 L1871.0 1223.9 L1873.0 1223.9 L1875.0 1223.9 L1877.0 1223.9 L1879.0 1223.9 L1881.0 1223.9 L1883.0 1223.9 L1885.0 1223.9 L1887.0 1223.9 L1889.0 1223.9 L1891.0 1223.9 L1893.0 1223.9 L1895.0 1223.9 L1897.0 1223.9 L1899.0 1223.9 L1901.0 1223.9 L1903.0 1223.9 L1905.0 1223.9 L1907.0 1223.9 L1909.0 1223.9 L1911.0 1223.9 L1913.0 1223.9 L1915.0 1223.9 L1917.0 1223.9 L1919.0 1223.9 L1921.0 1223.9 L1923.0 1223.9 L1925.0 1223.9 L1927.0 1223.9 L1929.0 1223.9 L1931.0 1223.9 L1933.0 1223.9 L1935.0 1223.9 L1937.0 1223.9 L1939.0 1223.9 L1941.0 1223.9 L1943.0 1223.9 L1945.0 1223.9 L1947.0 1223.9 L1949.0 1223.9 L1951.0 1223.9 L1953.0 1223.9 L1955.0 1223.9 L1957.0 1223.9 L1959.0 1223.9 L1961.0 1223.9 L1963.0 1223.9 L1965.0 1223.9 L1967.0 1223.9 L1969.0 1223.9 L1971.0 1223.9 L1973.0 1223.9 L1975.0 1223.9 L1977.0 1223.9 L1979.0 1223.9 L1981.0 1223.9 L1983.0 1223.9 L1985.0 1223.9 L1987.0 1223.9 L1989.0 1223.9 L1991.0 1223.9 L1993.0 1223.9 L1995.0 1223.9 L1997.0 1223.9 L1999.0 1223.9 L2001.0 1223.9 L2003.0 1223.9 L2005.0 1223.9 L2007.0 1223.9 L2009.0 1223.9 L2011.0 1223.9 L2013.0 1223.9 L2015.0 1223.9 L2017.0 1223.9 L2019.0 1223.9 L2021.0 1223.9 L2023.0 1223.9 L2025.0 1223.9 L2027.0 1223.9 L2029.0 1223.9 L2031.0 1223.9 L2033.0 1223.9 L2035.0 1223.9 L2037.0 1223.9 L2039.0 1223.9 L2041.0 1223.9 L2043.0 1223.9 L2045.0 1223.9 L2047.0 1223.9 L2049.0 1223.9 L2051.0 1223.9 L2053.0 1223.9 L2055.0 1223.9 L2057.0 1223.9 L2059.0 1223.9 L2061.0 1223.9 L2063.0 1223.9 L2065.0 1223.9 L2067.0 1223.9 L2069.0 1223.9 L2071.0 1223.9 L2073.0 1223.9 L2075.0 1223.9 L2077.0 1223.9 L2079.0 1223.9 L2081.0 1223.9 L2083.0 1223.9 L2085.0 1223.9 L2087.0 1223.9 L2089.0 1223.9 L2091.0 1223.9 L2093.0 1223.9 L2095.0 1223.9 L2097.0 1223.9 L2099.0 1223.9 L2101.0 1223.9 L2103.0 1223.9 L2105.0 1223.9 L2107.0 1223.9 L2109.0 1223.9 L2111.0 1223.9 L2113.0 1223.9 L2115.0 1223.9 L2117.0 1223.9 L2119.0 1223.9 L2121.0 1223.9 L2123.0 1223.9 L2125.0 1223.9 L2127.0 1223.9 L2129.0 1223.9 L2131.0 1223.9 L2133.0 1223.9 L2135.0 1223.9 L2137.0 1223.9 L2139.0 1223.9 L2141.0 1223.9 L2143.0 1223.9 L2145.0 1223.9 L2147.0 1223.9 L2149.0 1223.9 L2151.0 1223.9 L2153.0 1223.9 L2155.0 1223.9 L2157.0 1223.9 L2159.0 1223.9 L2161.0 1223.9 L2163.0 1223.9 L2165.0 1223.9 L2167.0 1223.9 L2169.0 1223.9 L2171.0 1223.9 L2173.0 1223.9 L2175.0 1223.9 L2177.0 1223.9 L2179.0 1223.9" fill="none" stroke="#c80000" stroke-width="12.0" stroke-linejoin="round"/>
</g>
<g stroke="#000" stroke-width="2.6" fill="none" stroke-linecap="butt">
<rect x="281.0" y="58.0" width="1898.5" height="1272.0"/>
<line x1="281.0" y1="1329.5" x2="267.0" y2="1329.5"/>
<line x1="281.0" y1="1223.5" x2="255.0" y2="1223.5"/>
<line x1="281.0" y1="1117.5" x2="267.0" y2="1117.5"/>
<line x1="281.0" y1="1011.6" x2="267.0" y2="1011.6"/>
<line x1="281.0" y1="905.7" x2="267.0" y2="905.7"/>
<line x1="281.0" y1="799.7" x2="267.0" y2="799.7"/>
<line x1="281.0" y1="693.8" x2="255.0" y2="693.8"/>
<line x1="281.0" y1="587.8" x2="267.0" y2="587.8"/>
<line x1="281.0" y1="481.9" x2="267.0" y2="481.9"/>
<line x1="281.0" y1="375.9" x2="267.0" y2="375.9"/>
<line x1="281.0" y1="269.9" x2="267.0" y2="269.9"/>
<line x1="281.0" y1="164.0" x2="255.0" y2="164.0"/>
<line x1="281.0" y1="58.0" x2="267.0" y2="58.0"/>
<line x1="281.0" y1="1330.0" x2="281.0" y2="1355.5"/>
<line x1="356.9" y1="1330.0" x2="356.9" y2="1343.5"/>
<line x1="432.9" y1="1330.0" x2="432.9" y2="1343.5"/>
<line x1="508.8" y1="1330.0" x2="508.8" y2="1343.5"/>
<line x1="584.8" y1="1330.0" x2="584.8" y2="1343.5"/>
<line x1="660.7" y1="1330.0" x2="660.7" y2="1355.5"/>
<line x1="736.6" y1="1330.0" x2="736.6" y2="1343.5"/>
<line x1="812.6" y1="1330.0" x2="812.6" y2="1343.5"/>
<line x1="888.5" y1="1330.0" x2="888.5" y2="1343.5"/>
<line x1="964.5" y1="1330.0" x2="964.5" y2="1343.5"/>
<line x1="1040.4" y1="1330.0" x2="1040.4" y2="1355.5"/>
<line x1="1116.3" y1="1330.0" x2="1116.3" y2="1343.5"/>
<line x1="1192.3" y1="1330.0" x2="1192.3" y2="1343.5"/>
<line x1="1268.2" y1="1330.0" x2="1268.2" y2="1343.5"/>
<line x1="1344.2" y1="1330.0" x2="1344.2" y2="1343.5"/>
<line x1="1420.1" y1="1330.0" x2="1420.1" y2="1355.5"/>
<line x1="1496.0" y1="1330.0" x2="1496.0" y2="1343.5"/>
<line x1="1572.0" y1="1330.0" x2="1572.0" y2="1343.5"/>
<line x1="1647.9" y1="1330.0" x2="1647.9" y2="1343.5"/>
<line x1="1723.9" y1="1330.0" x2="1723.9" y2="1343.5"/>
<line x1="1799.8" y1="1330.0" x2="1799.8" y2="1355.5"/>
<line x1="1875.7" y1="1330.0" x2="1875.7" y2="1343.5"/>
<line x1="1951.7" y1="1330.0" x2="1951.7" y2="1343.5"/>
<line x1="2027.6" y1="1330.0" x2="2027.6" y2="1343.5"/>
<line x1="2103.6" y1="1330.0" x2="2103.6" y2="1343.5"/>
<line x1="2179.5" y1="1330.0" x2="2179.5" y2="1355.5"/>
</g>
<g font-size="70" fill="#000">
<g transform="translate(233.5 181.8) scale(0.957 1)"><text text-anchor="end">1.0</text>
<rect x="-93.89" y="-7.86" width="13.91" height="8.89" fill="#fff"/><rect x="-73.25" y="-7.86" width="13.36" height="8.89" fill="#fff"/>
</g>
<g transform="translate(233.5 711.5) scale(0.957 1)"><text text-anchor="end">0.5</text>
</g>
<g transform="translate(233.5 1241.3) scale(0.957 1)"><text text-anchor="end">0.0</text>
</g>
<g transform="translate(279.0 1425.3) scale(0.957 1)"><text text-anchor="middle">-25</text>
</g>
<g transform="translate(658.7 1425.3) scale(0.957 1)"><text text-anchor="middle">0</text>
</g>
<g transform="translate(1038.4 1425.3) scale(0.957 1)"><text text-anchor="middle">25</text>
</g>
<g transform="translate(1418.1 1425.3) scale(0.957 1)"><text text-anchor="middle">50</text>
</g>
<g transform="translate(1797.8 1425.3) scale(0.957 1)"><text text-anchor="middle">75</text>
</g>
<g transform="translate(2177.5 1425.3) scale(0.957 1)"><text text-anchor="middle">100</text>
<rect x="-54.98" y="-7.86" width="13.91" height="8.89" fill="#fff"/><rect x="-34.33" y="-7.86" width="13.36" height="8.89" fill="#fff"/>
</g>
</g>
<g font-size="70" fill="#000">
<text class="sym" transform="translate(1125.2 1522) scale(1.25 1)" font-size="67">θ</text>
<text transform="translate(1182 1521) scale(1.15 1)" font-size="64">[</text>
<text transform="translate(1217.8 1492.5) scale(1.06 1)" font-size="53.5">o</text>
<text transform="translate(1247 1522) scale(0.957 1)">C</text>
<text transform="translate(1312.7 1521) scale(1.15 1)" font-size="64">]</text>
<g transform="translate(85.8 764) rotate(-90)">
<text transform="scale(0.957 1)">m</text>
<g stroke="#fff" stroke-width="1.6">
<text transform="translate(55.8 0) scale(0.957 1)">(</text>
<text class="sym" transform="translate(77.6 0) scale(1.2 1)" font-size="67">θ</text>
<text transform="translate(113 0) scale(0.957 1)">)</text>
</g>
</g>
</g>
<line x1="352" y1="756.7" x2="468" y2="756.7" stroke="#0000ff" stroke-width="7.6"/>
<rect x="395.3" y="745.6" width="22.2" height="22.2" fill="#fff" stroke="#0000ff" stroke-width="4.8"/>
<line x1="354.5" y1="909.1" x2="468" y2="909.1" stroke="#c22e00" stroke-width="7.6"/>
<rect x="395.5" y="898.1" width="22.1" height="21.9" fill="#fff" stroke="#c22e00" stroke-width="4.8"/>
<text x="495" y="776.7" fill="#0000ff" font-size="60" textLength="118.5" lengthAdjust="spacingAndGlyphs">TiNi</text>
<text x="627.5" y="776.7" fill="#0000ff" font-size="60" textLength="164" lengthAdjust="spacingAndGlyphs">target</text>
<text x="496" y="851.5" fill="#0000ff" font-size="60" textLength="200" lengthAdjust="spacingAndGlyphs">cooling</text>
<text x="495" y="929" fill="#c80000" font-size="60" textLength="118.5" lengthAdjust="spacingAndGlyphs">TiNi</text>
<text x="627.5" y="929" fill="#c80000" font-size="60" textLength="164" lengthAdjust="spacingAndGlyphs">target</text>
<text x="494" y="1006.8" fill="#c80000" font-size="60" textLength="208" lengthAdjust="spacingAndGlyphs">heating</text>
<line x1="1703" y1="311.2" x2="1841" y2="311.2" stroke="#0000ff" stroke-width="12.6" stroke-linecap="round"/>
<line x1="1703" y1="543.7" x2="1841" y2="543.7" stroke="#c80000" stroke-width="12.6" stroke-linecap="round"/>
<text x="1858" y="331.7" fill="#0000ff" font-size="60" textLength="192" lengthAdjust="spacingAndGlyphs">TiNiCu</text>
<text x="1856" y="408.5" fill="#0000ff" font-size="60" textLength="165" lengthAdjust="spacingAndGlyphs">target</text>
<text x="1856" y="486.3" fill="#0000ff" font-size="60" textLength="200" lengthAdjust="spacingAndGlyphs">cooling</text>
<text x="1858" y="563.5" fill="#c80000" font-size="60" textLength="192" lengthAdjust="spacingAndGlyphs">TiNiCu</text>
<text x="1856" y="641.3" fill="#c80000" font-size="60" textLength="165" lengthAdjust="spacingAndGlyphs">target</text>
<text x="1856" y="718.4" fill="#c80000" font-size="60" textLength="208" lengthAdjust="spacingAndGlyphs">heating</text>
</svg></body></html>
